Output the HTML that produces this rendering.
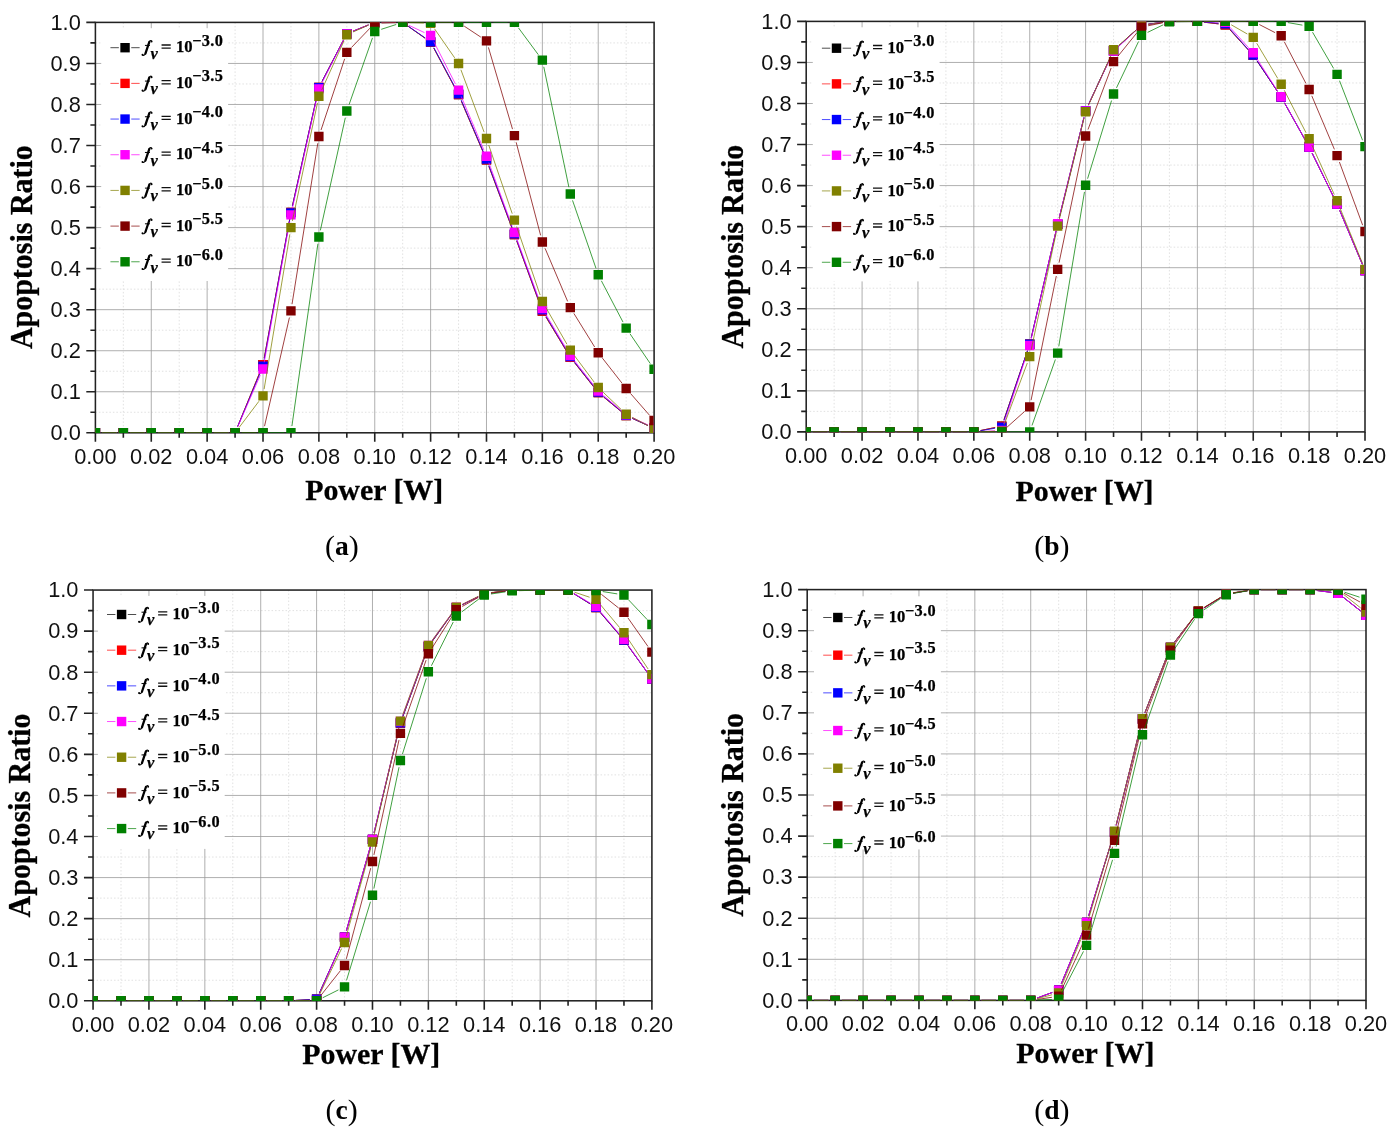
<!DOCTYPE html>
<html lang="en">
<head>
<meta charset="utf-8">
<title>Apoptosis Ratio vs Power</title>
<style>
html,body{margin:0;padding:0;background:#fff;}
body{width:1399px;height:1135px;position:relative;overflow:hidden;font-family:"Liberation Sans",sans-serif;}
svg{display:block;}
</style>
</head>
<body>
<svg width="1399" height="1135" viewBox="0 0 1399 1135" style="position:absolute;left:0;top:0;will-change:transform">
<defs>
<clipPath id="cp_a"><rect x="95.3" y="22.3" width="558.2" height="410.8"/></clipPath>
<clipPath id="cp_b"><rect x="806.1" y="21.3" width="558.3" height="410.9"/></clipPath>
<clipPath id="cp_c"><rect x="92.96" y="589.96" width="558.34" height="411.14"/></clipPath>
<clipPath id="cp_d"><rect x="807.1" y="589.5" width="558.3" height="411.2"/></clipPath>
<g id="gf"><path d="M7.9 -10.6L3.95 1.2" stroke="#000" stroke-width="2.25" stroke-linecap="round" fill="none"/><path d="M7.5 -9.6C8 -11.6 9.3 -12.6 10.2 -11.4" stroke="#000" stroke-width="1.1" fill="none" stroke-linecap="round"/><circle cx="10.15" cy="-10.85" r="0.95" fill="#000"/><path d="M4.3 0.2C3.8 2.2 2.6 3.4 1.2 2.9" stroke="#000" stroke-width="1.1" fill="none" stroke-linecap="round"/><circle cx="1.05" cy="2.45" r="1" fill="#000"/><path d="M3.5 -7H8.5" stroke="#000" stroke-width="1" fill="none"/></g>
</defs>
<g id="panel_a">
<path d="M123.34 22.4V432.8M179.21 22.4V432.8M235.08 22.4V432.8M290.95 22.4V432.8M346.82 22.4V432.8M402.69 22.4V432.8M458.56 22.4V432.8M514.42 22.4V432.8M570.3 22.4V432.8M626.17 22.4V432.8M95.4 412.28H654.1M95.4 371.24H654.1M95.4 330.2H654.1M95.4 289.16H654.1M95.4 248.12H654.1M95.4 207.08H654.1M95.4 166.04H654.1M95.4 125H654.1M95.4 83.96H654.1M95.4 42.92H654.1" stroke="#dedede" stroke-width="0.9" stroke-dasharray="1.5 2" fill="none"/>
<path d="M151.27 22.4V432.8M207.14 22.4V432.8M263.01 22.4V432.8M318.88 22.4V432.8M374.75 22.4V432.8M430.62 22.4V432.8M486.49 22.4V432.8M542.36 22.4V432.8M598.23 22.4V432.8M95.4 391.76H654.1M95.4 350.72H654.1M95.4 309.68H654.1M95.4 268.64H654.1M95.4 227.6H654.1M95.4 186.56H654.1M95.4 145.52H654.1M95.4 104.48H654.1M95.4 63.44H654.1" stroke="#9a9a9a" stroke-width="0.8" fill="none"/>
<rect x="101.2" y="28.2" width="126.9" height="252.8" fill="#fff"/>
<rect x="95.4" y="22.4" width="558.7" height="410.4" fill="none" stroke="#222" stroke-width="1.55"/>
<path d="M95.4 432.8v8.9M123.34 432.8v5M151.27 432.8v8.9M179.21 432.8v5M207.14 432.8v8.9M235.08 432.8v5M263.01 432.8v8.9M290.95 432.8v5M318.88 432.8v8.9M346.82 432.8v5M374.75 432.8v8.9M402.69 432.8v5M430.62 432.8v8.9M458.56 432.8v5M486.49 432.8v8.9M514.42 432.8v5M542.36 432.8v8.9M570.3 432.8v5M598.23 432.8v8.9M626.17 432.8v5M654.1 432.8v8.9M95.4 432.8h-9.1M95.4 412.28h-5M95.4 391.76h-9.1M95.4 371.24h-5M95.4 350.72h-9.1M95.4 330.2h-5M95.4 309.68h-9.1M95.4 289.16h-5M95.4 268.64h-9.1M95.4 248.12h-5M95.4 227.6h-9.1M95.4 207.08h-5M95.4 186.56h-9.1M95.4 166.04h-5M95.4 145.52h-9.1M95.4 125h-5M95.4 104.48h-9.1M95.4 83.96h-5M95.4 63.44h-9.1M95.4 42.92h-5M95.4 22.4h-9.1" stroke="#222" stroke-width="1.6" fill="none"/>
<g font-family="'Liberation Sans', sans-serif" font-size="21.8" fill="#111">
<text x="95.4" y="464.3" text-anchor="middle">0.00</text>
<text x="151.27" y="464.3" text-anchor="middle">0.02</text>
<text x="207.14" y="464.3" text-anchor="middle">0.04</text>
<text x="263.01" y="464.3" text-anchor="middle">0.06</text>
<text x="318.88" y="464.3" text-anchor="middle">0.08</text>
<text x="374.75" y="464.3" text-anchor="middle">0.10</text>
<text x="430.62" y="464.3" text-anchor="middle">0.12</text>
<text x="486.49" y="464.3" text-anchor="middle">0.14</text>
<text x="542.36" y="464.3" text-anchor="middle">0.16</text>
<text x="598.23" y="464.3" text-anchor="middle">0.18</text>
<text x="654.1" y="464.3" text-anchor="middle">0.20</text>
<text x="80.8" y="440.1" text-anchor="end">0.0</text>
<text x="80.8" y="399.06" text-anchor="end">0.1</text>
<text x="80.8" y="358.02" text-anchor="end">0.2</text>
<text x="80.8" y="316.98" text-anchor="end">0.3</text>
<text x="80.8" y="275.94" text-anchor="end">0.4</text>
<text x="80.8" y="234.9" text-anchor="end">0.5</text>
<text x="80.8" y="193.86" text-anchor="end">0.6</text>
<text x="80.8" y="152.82" text-anchor="end">0.7</text>
<text x="80.8" y="111.78" text-anchor="end">0.8</text>
<text x="80.8" y="70.74" text-anchor="end">0.9</text>
<text x="80.8" y="29.7" text-anchor="end">1.0</text>
</g>
<g clip-path="url(#cp_a)">
<path d="M102.2 432.8L116.54 432.8M130.14 432.8L144.47 432.8M158.07 432.8L172.41 432.8M186.01 432.8L200.34 432.8M213.94 432.8L228.28 432.8M237.65 426.51L260.43 370.97M264.24 357.99L289.72 219.1M292.43 205.78L317.4 94.08M322.02 81.41L343.68 39.72M353.12 31.14L368.45 24.95M381.55 22.4L395.89 22.4M408.24 26.32L425.06 38.18M433.81 48.1L455.36 88.63M461.23 100.88L483.81 153.63M488.87 166.25L512.04 228.21M516.76 240.96L540.03 304.73M545.88 316.93L566.77 351.47M574.52 362.62L594.01 387.25M603.48 396.9L620.91 411.24M632.35 418.38L647.91 425.47" stroke="#000000" stroke-width="0.75" fill="none"/>
<path d="M90.7 428.1h9.4v9.4h-9.4zM118.64 428.1h9.4v9.4h-9.4zM146.57 428.1h9.4v9.4h-9.4zM174.51 428.1h9.4v9.4h-9.4zM202.44 428.1h9.4v9.4h-9.4zM230.38 428.1h9.4v9.4h-9.4zM258.31 359.97h9.4v9.4h-9.4zM286.25 207.72h9.4v9.4h-9.4zM314.18 82.75h9.4v9.4h-9.4zM342.12 28.99h9.4v9.4h-9.4zM370.05 17.7h9.4v9.4h-9.4zM397.99 17.7h9.4v9.4h-9.4zM425.92 37.4h9.4v9.4h-9.4zM453.86 89.93h9.4v9.4h-9.4zM481.79 155.18h9.4v9.4h-9.4zM509.72 229.88h9.4v9.4h-9.4zM537.66 306.42h9.4v9.4h-9.4zM565.6 352.59h9.4v9.4h-9.4zM593.53 387.88h9.4v9.4h-9.4zM621.47 410.86h9.4v9.4h-9.4zM649.4 423.59h9.4v9.4h-9.4z" fill="#000000"/>
<path d="M102.2 432.8L116.54 432.8M130.14 432.8L144.47 432.8M158.07 432.8L172.41 432.8M186.01 432.8L200.34 432.8M213.94 432.8L228.28 432.8M237.65 426.51L260.43 370.97M264.24 357.99L289.72 219.1M292.43 205.78L317.4 94.08M322.02 81.41L343.68 39.72M353.12 31.14L368.45 24.95M381.55 22.4L395.89 22.4M408.24 26.32L425.06 38.18M433.81 48.1L455.36 88.63M461.23 100.88L483.81 153.63M488.87 166.25L512.04 228.21M516.76 240.96L540.03 304.73M545.88 316.93L566.77 351.47M574.52 362.62L594.01 387.25M603.48 396.9L620.91 411.24M632.35 418.38L647.91 425.47" stroke="#ff0000" stroke-width="0.75" fill="none"/>
<path d="M90.7 428.1h9.4v9.4h-9.4zM118.64 428.1h9.4v9.4h-9.4zM146.57 428.1h9.4v9.4h-9.4zM174.51 428.1h9.4v9.4h-9.4zM202.44 428.1h9.4v9.4h-9.4zM230.38 428.1h9.4v9.4h-9.4zM258.31 359.97h9.4v9.4h-9.4zM286.25 207.72h9.4v9.4h-9.4zM314.18 82.75h9.4v9.4h-9.4zM342.12 28.99h9.4v9.4h-9.4zM370.05 17.7h9.4v9.4h-9.4zM397.99 17.7h9.4v9.4h-9.4zM425.92 37.4h9.4v9.4h-9.4zM453.86 89.93h9.4v9.4h-9.4zM481.79 155.18h9.4v9.4h-9.4zM509.72 229.88h9.4v9.4h-9.4zM537.66 306.42h9.4v9.4h-9.4zM565.6 352.59h9.4v9.4h-9.4zM593.53 387.88h9.4v9.4h-9.4zM621.47 410.86h9.4v9.4h-9.4zM649.4 423.59h9.4v9.4h-9.4z" fill="#ff0000"/>
<path d="M102.2 432.8L116.54 432.8M130.14 432.8L144.47 432.8M158.07 432.8L172.41 432.8M186.01 432.8L200.34 432.8M213.94 432.8L228.28 432.8M237.71 426.53L260.38 372.58M264.23 359.63L289.73 219.52M292.43 206.19L317.4 94.29M322.02 81.62L343.68 39.93M353.1 31.3L368.46 24.99M381.55 22.4L395.89 22.4M408.28 26.26L425.02 37.83M433.83 47.68L455.34 87.82M461.23 100.06L483.81 152.81M488.87 165.43L512.04 227.39M516.77 240.14L540.02 303.5M545.85 315.72L566.8 350.75M574.51 361.93L594.02 386.63M603.44 396.33L620.95 410.99M632.34 418.21L647.93 425.43" stroke="#0000ff" stroke-width="0.75" fill="none"/>
<path d="M90.7 428.1h9.4v9.4h-9.4zM118.64 428.1h9.4v9.4h-9.4zM146.57 428.1h9.4v9.4h-9.4zM174.51 428.1h9.4v9.4h-9.4zM202.44 428.1h9.4v9.4h-9.4zM230.38 428.1h9.4v9.4h-9.4zM258.31 361.62h9.4v9.4h-9.4zM286.25 208.13h9.4v9.4h-9.4zM314.18 82.95h9.4v9.4h-9.4zM342.12 29.19h9.4v9.4h-9.4zM370.05 17.7h9.4v9.4h-9.4zM397.99 17.7h9.4v9.4h-9.4zM425.92 36.99h9.4v9.4h-9.4zM453.86 89.11h9.4v9.4h-9.4zM481.79 154.36h9.4v9.4h-9.4zM509.72 229.06h9.4v9.4h-9.4zM537.66 305.19h9.4v9.4h-9.4zM565.6 351.89h9.4v9.4h-9.4zM593.53 387.27h9.4v9.4h-9.4zM621.47 410.66h9.4v9.4h-9.4zM649.4 423.59h9.4v9.4h-9.4z" fill="#0000ff"/>
<path d="M102.2 432.8L116.54 432.8M130.14 432.8L144.47 432.8M158.07 432.8L172.41 432.8M186.01 432.8L200.34 432.8M213.94 432.8L228.28 432.8M237.8 426.57L260.28 375.21M264.22 362.29L289.73 221.57M292.42 208.24L317.41 95.52M321.96 82.82L343.74 39.95M353.1 31.3L368.46 24.99M381.55 22.4L395.89 22.4M408.84 25.29L424.47 32.64M433.72 41.59L455.46 84.06M461.2 96.38L483.84 149.93M488.83 162.58L512.09 226.14M516.77 238.91L540.01 302.07M545.83 314.29L566.82 349.59M574.5 360.78L594.02 385.6M603.41 395.35L620.99 410.33M632.32 417.64L647.95 424.98" stroke="#ff00ff" stroke-width="0.75" fill="none"/>
<path d="M90.7 428.1h9.4v9.4h-9.4zM118.64 428.1h9.4v9.4h-9.4zM146.57 428.1h9.4v9.4h-9.4zM174.51 428.1h9.4v9.4h-9.4zM202.44 428.1h9.4v9.4h-9.4zM230.38 428.1h9.4v9.4h-9.4zM258.31 364.28h9.4v9.4h-9.4zM286.25 210.18h9.4v9.4h-9.4zM314.18 84.18h9.4v9.4h-9.4zM342.12 29.19h9.4v9.4h-9.4zM370.05 17.7h9.4v9.4h-9.4zM397.99 17.7h9.4v9.4h-9.4zM425.92 30.83h9.4v9.4h-9.4zM453.86 85.42h9.4v9.4h-9.4zM481.79 151.49h9.4v9.4h-9.4zM509.72 227.82h9.4v9.4h-9.4zM537.66 303.75h9.4v9.4h-9.4zM565.6 350.74h9.4v9.4h-9.4zM593.53 386.24h9.4v9.4h-9.4zM621.47 410.04h9.4v9.4h-9.4zM649.4 423.18h9.4v9.4h-9.4z" fill="#ff00ff"/>
<path d="M102.2 432.8L116.54 432.8M130.14 432.8L144.47 432.8M158.07 432.8L172.41 432.8M186.01 432.8L200.34 432.8M213.94 432.8L228.28 432.8M239.18 427.38L258.91 401.29M264.12 389.16L289.83 234.31M292.36 220.95L317.47 102.92M321.69 90.08L344.01 40.9M353.04 31.97L368.53 25.14M381.55 22.4L395.89 22.4M409.48 22.6L423.82 23.02M434.5 28.81L454.68 57.86M460.93 69.81L484.12 132.17M488.69 144.98L512.22 213.66M516.63 226.52L540.15 295.04M545.75 307.37L566.91 344.21M574.36 355.55L594.16 382.08M603.15 392.23L621.25 409.51M632.2 417.34L648.06 425.57" stroke="#808000" stroke-width="0.75" fill="none"/>
<path d="M90.7 428.1h9.4v9.4h-9.4zM118.64 428.1h9.4v9.4h-9.4zM146.57 428.1h9.4v9.4h-9.4zM174.51 428.1h9.4v9.4h-9.4zM202.44 428.1h9.4v9.4h-9.4zM230.38 428.1h9.4v9.4h-9.4zM258.31 391.16h9.4v9.4h-9.4zM286.25 222.9h9.4v9.4h-9.4zM314.18 91.57h9.4v9.4h-9.4zM342.12 30.01h9.4v9.4h-9.4zM370.05 17.7h9.4v9.4h-9.4zM397.99 17.7h9.4v9.4h-9.4zM425.92 18.52h9.4v9.4h-9.4zM453.86 58.74h9.4v9.4h-9.4zM481.79 133.84h9.4v9.4h-9.4zM509.72 215.39h9.4v9.4h-9.4zM537.66 296.77h9.4v9.4h-9.4zM565.6 345.4h9.4v9.4h-9.4zM593.53 382.83h9.4v9.4h-9.4zM621.47 409.51h9.4v9.4h-9.4zM649.4 424h9.4v9.4h-9.4z" fill="#808000"/>
<path d="M102.2 432.8L116.54 432.8M130.14 432.8L144.47 432.8M158.07 432.8L172.41 432.8M186.01 432.8L200.34 432.8M213.94 432.8L228.28 432.8M241.88 432.8L256.21 432.8M264.53 426.17L289.43 317.54M292.02 304.2L317.8 143.21M321.02 130.04L344.67 58.81M351.52 47.45L370.04 28.13M381.55 23.02L395.89 22.6M409.49 22.4L423.82 22.4M437.42 22.4L451.76 22.4M464.23 26.15L480.82 37.12M488.41 47.39L512.5 129.15M516.15 142.25L540.63 235.39M545.02 248.22L567.63 301.37M573.87 313.41L594.65 346.99M602.42 358.13L621.97 383.12M630.64 393.6L649.63 415.36" stroke="#800000" stroke-width="0.75" fill="none"/>
<path d="M90.7 428.1h9.4v9.4h-9.4zM118.64 428.1h9.4v9.4h-9.4zM146.57 428.1h9.4v9.4h-9.4zM174.51 428.1h9.4v9.4h-9.4zM202.44 428.1h9.4v9.4h-9.4zM230.38 428.1h9.4v9.4h-9.4zM258.31 428.1h9.4v9.4h-9.4zM286.25 306.21h9.4v9.4h-9.4zM314.18 131.79h9.4v9.4h-9.4zM342.12 47.66h9.4v9.4h-9.4zM370.05 18.52h9.4v9.4h-9.4zM397.99 17.7h9.4v9.4h-9.4zM425.92 17.7h9.4v9.4h-9.4zM453.86 17.7h9.4v9.4h-9.4zM481.79 36.17h9.4v9.4h-9.4zM509.72 130.97h9.4v9.4h-9.4zM537.66 237.26h9.4v9.4h-9.4zM565.6 302.93h9.4v9.4h-9.4zM593.53 348.07h9.4v9.4h-9.4zM621.47 383.78h9.4v9.4h-9.4zM649.4 415.79h9.4v9.4h-9.4z" fill="#800000"/>
<path d="M102.2 432.8L116.54 432.8M130.14 432.8L144.47 432.8M158.07 432.8L172.41 432.8M186.01 432.8L200.34 432.8M213.94 432.8L228.28 432.8M241.88 432.8L256.21 432.8M269.81 432.8L284.15 432.8M291.91 426.07L317.92 243.77M320.35 230.4L345.34 117.69M349.07 104.63L372.5 37.85M381.22 29.34L396.21 24.49M409.49 22.4L423.82 22.4M437.42 22.4L451.76 22.4M465.36 22.4L479.69 22.4M493.29 22.4L507.62 22.4M518.47 27.87L538.32 54.69M543.75 66.81L568.91 187.29M572.52 200.37L596.01 268.37M601.38 280.82L623.01 322.12M629.99 333.77L650.27 363.57" stroke="#008000" stroke-width="0.75" fill="none"/>
<path d="M90.7 428.1h9.4v9.4h-9.4zM118.64 428.1h9.4v9.4h-9.4zM146.57 428.1h9.4v9.4h-9.4zM174.51 428.1h9.4v9.4h-9.4zM202.44 428.1h9.4v9.4h-9.4zM230.38 428.1h9.4v9.4h-9.4zM258.31 428.1h9.4v9.4h-9.4zM286.25 428.1h9.4v9.4h-9.4zM314.18 232.34h9.4v9.4h-9.4zM342.12 106.35h9.4v9.4h-9.4zM370.05 26.73h9.4v9.4h-9.4zM397.99 17.7h9.4v9.4h-9.4zM425.92 17.7h9.4v9.4h-9.4zM453.86 17.7h9.4v9.4h-9.4zM481.79 17.7h9.4v9.4h-9.4zM509.72 17.7h9.4v9.4h-9.4zM537.66 55.46h9.4v9.4h-9.4zM565.6 189.25h9.4v9.4h-9.4zM593.53 270.1h9.4v9.4h-9.4zM621.47 323.45h9.4v9.4h-9.4zM649.4 364.49h9.4v9.4h-9.4z" fill="#008000"/>
</g>
<path d="M110.45 47.7h8.4M131.25 47.7h8.4" stroke="#000000" stroke-width="0.7" fill="none"/>
<rect x="120.35" y="43" width="9.4" height="9.4" fill="#000000"/>
<use href="#gf" x="141.45" y="52.4"/>
<g font-family="'Liberation Serif', serif" font-weight="bold" font-size="16.6" fill="#000" stroke="#000" stroke-width="0.25">
<text x="150.45" y="58.6" font-style="italic" font-size="16.4">v</text>
<path d="M161.55 45h9.2M161.55 48.1h9.2" stroke="#111" stroke-width="1.3" fill="none"/>
<text x="176.05" y="52.4">10</text>
<text x="192.15" y="45.8" font-size="16.3" letter-spacing="0.4">−3.0</text>
</g>
<path d="M110.45 83.38h8.4M131.25 83.38h8.4" stroke="#ff0000" stroke-width="0.7" fill="none"/>
<rect x="120.35" y="78.68" width="9.4" height="9.4" fill="#ff0000"/>
<use href="#gf" x="141.45" y="88.08"/>
<g font-family="'Liberation Serif', serif" font-weight="bold" font-size="16.6" fill="#000" stroke="#000" stroke-width="0.25">
<text x="150.45" y="94.28" font-style="italic" font-size="16.4">v</text>
<path d="M161.55 80.68h9.2M161.55 83.78h9.2" stroke="#111" stroke-width="1.3" fill="none"/>
<text x="176.05" y="88.08">10</text>
<text x="192.15" y="81.48" font-size="16.3" letter-spacing="0.4">−3.5</text>
</g>
<path d="M110.45 119.06h8.4M131.25 119.06h8.4" stroke="#0000ff" stroke-width="0.7" fill="none"/>
<rect x="120.35" y="114.36" width="9.4" height="9.4" fill="#0000ff"/>
<use href="#gf" x="141.45" y="123.76"/>
<g font-family="'Liberation Serif', serif" font-weight="bold" font-size="16.6" fill="#000" stroke="#000" stroke-width="0.25">
<text x="150.45" y="129.96" font-style="italic" font-size="16.4">v</text>
<path d="M161.55 116.36h9.2M161.55 119.46h9.2" stroke="#111" stroke-width="1.3" fill="none"/>
<text x="176.05" y="123.76">10</text>
<text x="192.15" y="117.16" font-size="16.3" letter-spacing="0.4">−4.0</text>
</g>
<path d="M110.45 154.74h8.4M131.25 154.74h8.4" stroke="#ff00ff" stroke-width="0.7" fill="none"/>
<rect x="120.35" y="150.04" width="9.4" height="9.4" fill="#ff00ff"/>
<use href="#gf" x="141.45" y="159.44"/>
<g font-family="'Liberation Serif', serif" font-weight="bold" font-size="16.6" fill="#000" stroke="#000" stroke-width="0.25">
<text x="150.45" y="165.64" font-style="italic" font-size="16.4">v</text>
<path d="M161.55 152.04h9.2M161.55 155.14h9.2" stroke="#111" stroke-width="1.3" fill="none"/>
<text x="176.05" y="159.44">10</text>
<text x="192.15" y="152.84" font-size="16.3" letter-spacing="0.4">−4.5</text>
</g>
<path d="M110.45 190.42h8.4M131.25 190.42h8.4" stroke="#808000" stroke-width="0.7" fill="none"/>
<rect x="120.35" y="185.72" width="9.4" height="9.4" fill="#808000"/>
<use href="#gf" x="141.45" y="195.12"/>
<g font-family="'Liberation Serif', serif" font-weight="bold" font-size="16.6" fill="#000" stroke="#000" stroke-width="0.25">
<text x="150.45" y="201.32" font-style="italic" font-size="16.4">v</text>
<path d="M161.55 187.72h9.2M161.55 190.82h9.2" stroke="#111" stroke-width="1.3" fill="none"/>
<text x="176.05" y="195.12">10</text>
<text x="192.15" y="188.52" font-size="16.3" letter-spacing="0.4">−5.0</text>
</g>
<path d="M110.45 226.1h8.4M131.25 226.1h8.4" stroke="#800000" stroke-width="0.7" fill="none"/>
<rect x="120.35" y="221.4" width="9.4" height="9.4" fill="#800000"/>
<use href="#gf" x="141.45" y="230.8"/>
<g font-family="'Liberation Serif', serif" font-weight="bold" font-size="16.6" fill="#000" stroke="#000" stroke-width="0.25">
<text x="150.45" y="237" font-style="italic" font-size="16.4">v</text>
<path d="M161.55 223.4h9.2M161.55 226.5h9.2" stroke="#111" stroke-width="1.3" fill="none"/>
<text x="176.05" y="230.8">10</text>
<text x="192.15" y="224.2" font-size="16.3" letter-spacing="0.4">−5.5</text>
</g>
<path d="M110.45 261.78h8.4M131.25 261.78h8.4" stroke="#008000" stroke-width="0.7" fill="none"/>
<rect x="120.35" y="257.08" width="9.4" height="9.4" fill="#008000"/>
<use href="#gf" x="141.45" y="266.48"/>
<g font-family="'Liberation Serif', serif" font-weight="bold" font-size="16.6" fill="#000" stroke="#000" stroke-width="0.25">
<text x="150.45" y="272.68" font-style="italic" font-size="16.4">v</text>
<path d="M161.55 259.08h9.2M161.55 262.18h9.2" stroke="#111" stroke-width="1.3" fill="none"/>
<text x="176.05" y="266.48">10</text>
<text x="192.15" y="259.88" font-size="16.3" letter-spacing="0.4">−6.0</text>
</g>
<g font-family="'Liberation Serif', serif" font-weight="bold" fill="#000" stroke="#000" stroke-width="0.3">
<text x="374.2" y="500.4" text-anchor="middle" font-size="29.9">Power [W]</text>
<text transform="translate(31.75 247.15) rotate(-90)" text-anchor="middle" font-size="31.4" textLength="203.8" lengthAdjust="spacingAndGlyphs">Apoptosis Ratio</text>
</g>
<text x="341.8" y="554.8" text-anchor="middle" font-family="'Liberation Serif', serif" font-size="27.5" fill="#000"><tspan font-size="30" dy="1.6">(</tspan><tspan font-weight="bold" dy="-1.6">a</tspan><tspan font-size="30" dy="1.6">)</tspan></text>
</g>
<g id="panel_b">
<path d="M834.14 21.4V431.9M890.02 21.4V431.9M945.9 21.4V431.9M1001.78 21.4V431.9M1057.66 21.4V431.9M1113.54 21.4V431.9M1169.42 21.4V431.9M1225.3 21.4V431.9M1281.18 21.4V431.9M1337.06 21.4V431.9M806.2 411.38H1365M806.2 370.32H1365M806.2 329.27H1365M806.2 288.22H1365M806.2 247.17H1365M806.2 206.12H1365M806.2 165.07H1365M806.2 124.02H1365M806.2 82.97H1365M806.2 41.92H1365" stroke="#dedede" stroke-width="0.9" stroke-dasharray="1.5 2" fill="none"/>
<path d="M862.08 21.4V431.9M917.96 21.4V431.9M973.84 21.4V431.9M1029.72 21.4V431.9M1085.6 21.4V431.9M1141.48 21.4V431.9M1197.36 21.4V431.9M1253.24 21.4V431.9M1309.12 21.4V431.9M806.2 390.85H1365M806.2 349.8H1365M806.2 308.75H1365M806.2 267.7H1365M806.2 226.65H1365M806.2 185.6H1365M806.2 144.55H1365M806.2 103.5H1365M806.2 62.45H1365" stroke="#9a9a9a" stroke-width="0.8" fill="none"/>
<rect x="812.8" y="27.3" width="126.8" height="254.1" fill="#fff"/>
<rect x="806.2" y="21.4" width="558.8" height="410.5" fill="none" stroke="#222" stroke-width="1.55"/>
<path d="M806.2 431.9v8.9M834.14 431.9v5M862.08 431.9v8.9M890.02 431.9v5M917.96 431.9v8.9M945.9 431.9v5M973.84 431.9v8.9M1001.78 431.9v5M1029.72 431.9v8.9M1057.66 431.9v5M1085.6 431.9v8.9M1113.54 431.9v5M1141.48 431.9v8.9M1169.42 431.9v5M1197.36 431.9v8.9M1225.3 431.9v5M1253.24 431.9v8.9M1281.18 431.9v5M1309.12 431.9v8.9M1337.06 431.9v5M1365 431.9v8.9M806.2 431.9h-9.1M806.2 411.38h-5M806.2 390.85h-9.1M806.2 370.32h-5M806.2 349.8h-9.1M806.2 329.27h-5M806.2 308.75h-9.1M806.2 288.22h-5M806.2 267.7h-9.1M806.2 247.17h-5M806.2 226.65h-9.1M806.2 206.12h-5M806.2 185.6h-9.1M806.2 165.07h-5M806.2 144.55h-9.1M806.2 124.02h-5M806.2 103.5h-9.1M806.2 82.97h-5M806.2 62.45h-9.1M806.2 41.92h-5M806.2 21.4h-9.1" stroke="#222" stroke-width="1.6" fill="none"/>
<g font-family="'Liberation Sans', sans-serif" font-size="21.8" fill="#111">
<text x="806.2" y="463.2" text-anchor="middle">0.00</text>
<text x="862.08" y="463.2" text-anchor="middle">0.02</text>
<text x="917.96" y="463.2" text-anchor="middle">0.04</text>
<text x="973.84" y="463.2" text-anchor="middle">0.06</text>
<text x="1029.72" y="463.2" text-anchor="middle">0.08</text>
<text x="1085.6" y="463.2" text-anchor="middle">0.10</text>
<text x="1141.48" y="463.2" text-anchor="middle">0.12</text>
<text x="1197.36" y="463.2" text-anchor="middle">0.14</text>
<text x="1253.24" y="463.2" text-anchor="middle">0.16</text>
<text x="1309.12" y="463.2" text-anchor="middle">0.18</text>
<text x="1365" y="463.2" text-anchor="middle">0.20</text>
<text x="791.6" y="439.2" text-anchor="end">0.0</text>
<text x="791.6" y="398.15" text-anchor="end">0.1</text>
<text x="791.6" y="357.1" text-anchor="end">0.2</text>
<text x="791.6" y="316.05" text-anchor="end">0.3</text>
<text x="791.6" y="275" text-anchor="end">0.4</text>
<text x="791.6" y="233.95" text-anchor="end">0.5</text>
<text x="791.6" y="192.9" text-anchor="end">0.6</text>
<text x="791.6" y="151.85" text-anchor="end">0.7</text>
<text x="791.6" y="110.8" text-anchor="end">0.8</text>
<text x="791.6" y="69.75" text-anchor="end">0.9</text>
<text x="791.6" y="28.7" text-anchor="end">1.0</text>
</g>
<g clip-path="url(#cp_b)">
<path d="M813 431.9L827.34 431.9M840.94 431.9L855.28 431.9M868.88 431.9L883.22 431.9M896.82 431.9L911.16 431.9M924.76 431.9L939.1 431.9M952.7 431.9L967.04 431.9M980.5 430.53L995.12 427.52M1003.98 419.72L1027.52 350.69M1031.26 337.64L1056.12 230.81M1059.29 217.58L1083.97 117.49M1088.47 104.72L1110.67 56.92M1118.55 46.15L1136.47 29.69M1148.22 24.2L1162.68 22.29M1176.22 21.4L1190.56 21.4M1204.11 22.19L1218.55 23.89M1229.89 29.7L1248.65 50.25M1257.03 60.91L1277.39 91.28M1284.49 102.87L1305.81 141.07M1312.11 153.12L1334.07 197.97M1339.69 210.34L1362.37 264.3" stroke="#000000" stroke-width="0.75" fill="none"/>
<path d="M801.5 427.2h9.4v9.4h-9.4zM829.44 427.2h9.4v9.4h-9.4zM857.38 427.2h9.4v9.4h-9.4zM885.32 427.2h9.4v9.4h-9.4zM913.26 427.2h9.4v9.4h-9.4zM941.2 427.2h9.4v9.4h-9.4zM969.14 427.2h9.4v9.4h-9.4zM997.08 421.45h9.4v9.4h-9.4zM1025.02 339.56h9.4v9.4h-9.4zM1052.96 219.49h9.4v9.4h-9.4zM1080.9 106.19h9.4v9.4h-9.4zM1108.84 46.05h9.4v9.4h-9.4zM1136.78 20.39h9.4v9.4h-9.4zM1164.72 16.7h9.4v9.4h-9.4zM1192.66 16.7h9.4v9.4h-9.4zM1220.6 19.98h9.4v9.4h-9.4zM1248.54 50.57h9.4v9.4h-9.4zM1276.48 92.23h9.4v9.4h-9.4zM1304.42 142.31h9.4v9.4h-9.4zM1332.36 199.37h9.4v9.4h-9.4zM1360.3 265.87h9.4v9.4h-9.4z" fill="#000000"/>
<path d="M813 431.9L827.34 431.9M840.94 431.9L855.28 431.9M868.88 431.9L883.22 431.9M896.82 431.9L911.16 431.9M924.76 431.9L939.1 431.9M952.7 431.9L967.04 431.9M980.5 430.53L995.12 427.52M1003.98 419.72L1027.52 350.69M1031.26 337.64L1056.12 230.81M1059.29 217.58L1083.97 117.49M1088.47 104.72L1110.67 56.92M1118.55 46.15L1136.47 29.69M1148.22 24.2L1162.68 22.29M1176.22 21.4L1190.56 21.4M1204.11 22.19L1218.55 23.89M1229.89 29.7L1248.65 50.25M1257.03 60.91L1277.39 91.28M1284.49 102.87L1305.81 141.07M1312.11 153.12L1334.07 197.97M1339.69 210.34L1362.37 264.3" stroke="#ff0000" stroke-width="0.75" fill="none"/>
<path d="M801.5 427.2h9.4v9.4h-9.4zM829.44 427.2h9.4v9.4h-9.4zM857.38 427.2h9.4v9.4h-9.4zM885.32 427.2h9.4v9.4h-9.4zM913.26 427.2h9.4v9.4h-9.4zM941.2 427.2h9.4v9.4h-9.4zM969.14 427.2h9.4v9.4h-9.4zM997.08 421.45h9.4v9.4h-9.4zM1025.02 339.56h9.4v9.4h-9.4zM1052.96 219.49h9.4v9.4h-9.4zM1080.9 106.19h9.4v9.4h-9.4zM1108.84 46.05h9.4v9.4h-9.4zM1136.78 20.39h9.4v9.4h-9.4zM1164.72 16.7h9.4v9.4h-9.4zM1192.66 16.7h9.4v9.4h-9.4zM1220.6 19.98h9.4v9.4h-9.4zM1248.54 50.57h9.4v9.4h-9.4zM1276.48 92.23h9.4v9.4h-9.4zM1304.42 142.31h9.4v9.4h-9.4zM1332.36 199.37h9.4v9.4h-9.4zM1360.3 265.87h9.4v9.4h-9.4z" fill="#ff0000"/>
<path d="M813 431.9L827.34 431.9M840.94 431.9L855.28 431.9M868.88 431.9L883.22 431.9M896.82 431.9L911.16 431.9M924.76 431.9L939.1 431.9M952.7 431.9L967.04 431.9M980.54 430.75L995.08 428.25M1003.95 420.65L1027.55 350.7M1031.26 337.64L1056.12 230.81M1059.29 217.58L1083.97 117.29M1088.47 104.52L1110.67 56.91M1118.55 46.15L1136.47 29.69M1148.22 24.2L1162.68 22.29M1176.22 21.4L1190.56 21.4M1204.13 22L1218.53 23.27M1229.84 28.93L1248.7 50M1257.01 60.72L1277.41 91.28M1284.49 102.87L1305.81 141.07M1312.11 153.12L1334.07 197.97M1339.69 210.34L1362.37 264.3" stroke="#0000ff" stroke-width="0.75" fill="none"/>
<path d="M801.5 427.2h9.4v9.4h-9.4zM829.44 427.2h9.4v9.4h-9.4zM857.38 427.2h9.4v9.4h-9.4zM885.32 427.2h9.4v9.4h-9.4zM913.26 427.2h9.4v9.4h-9.4zM941.2 427.2h9.4v9.4h-9.4zM969.14 427.2h9.4v9.4h-9.4zM997.08 422.4h9.4v9.4h-9.4zM1025.02 339.56h9.4v9.4h-9.4zM1052.96 219.49h9.4v9.4h-9.4zM1080.9 105.98h9.4v9.4h-9.4zM1108.84 46.05h9.4v9.4h-9.4zM1136.78 20.39h9.4v9.4h-9.4zM1164.72 16.7h9.4v9.4h-9.4zM1192.66 16.7h9.4v9.4h-9.4zM1220.6 19.16h9.4v9.4h-9.4zM1248.54 50.36h9.4v9.4h-9.4zM1276.48 92.23h9.4v9.4h-9.4zM1304.42 142.31h9.4v9.4h-9.4zM1332.36 199.37h9.4v9.4h-9.4zM1360.3 265.87h9.4v9.4h-9.4z" fill="#0000ff"/>
<path d="M813 431.9L827.34 431.9M840.94 431.9L855.28 431.9M868.88 431.9L883.22 431.9M896.82 431.9L911.16 431.9M924.76 431.9L939.1 431.9M952.7 431.9L967.04 431.9M980.63 431.55L994.99 430.81M1003.9 424L1027.6 351.95M1031.24 338.86L1056.14 230.4M1059.29 217.18L1083.97 117.49M1088.48 104.73L1110.66 57.32M1118.55 46.56L1136.47 30.1M1148.21 24.52L1162.69 22.39M1176.22 21.4L1190.56 21.4M1204.16 21.6L1218.5 22.02M1229.89 27.24L1248.65 47.74M1256.89 58.5L1277.53 90.99M1284.49 102.67L1305.81 140.99M1312.11 153.04L1334.07 197.92M1339.69 210.3L1362.37 264.3" stroke="#ff00ff" stroke-width="0.75" fill="none"/>
<path d="M801.5 427.2h9.4v9.4h-9.4zM829.44 427.2h9.4v9.4h-9.4zM857.38 427.2h9.4v9.4h-9.4zM885.32 427.2h9.4v9.4h-9.4zM913.26 427.2h9.4v9.4h-9.4zM941.2 427.2h9.4v9.4h-9.4zM969.14 427.2h9.4v9.4h-9.4zM997.08 425.76h9.4v9.4h-9.4zM1025.02 340.79h9.4v9.4h-9.4zM1052.96 219.08h9.4v9.4h-9.4zM1080.9 106.19h9.4v9.4h-9.4zM1108.84 46.46h9.4v9.4h-9.4zM1136.78 20.8h9.4v9.4h-9.4zM1164.72 16.7h9.4v9.4h-9.4zM1192.66 16.7h9.4v9.4h-9.4zM1220.6 17.52h9.4v9.4h-9.4zM1248.54 48.06h9.4v9.4h-9.4zM1276.48 92.03h9.4v9.4h-9.4zM1304.42 142.23h9.4v9.4h-9.4zM1332.36 199.33h9.4v9.4h-9.4zM1360.3 265.87h9.4v9.4h-9.4z" fill="#ff00ff"/>
<path d="M813 431.9L827.34 431.9M840.94 431.9L855.28 431.9M868.88 431.9L883.22 431.9M896.82 431.9L911.16 431.9M924.76 431.9L939.1 431.9M952.7 431.9L967.04 431.9M980.64 431.7L994.98 431.28M1004.17 424.71L1027.33 362.98M1031.14 349.96L1056.24 232.72M1059.27 219.47L1083.99 118.32M1088.39 105.51L1110.75 55.92M1118.68 45.27L1136.34 29.96M1148.21 24.52L1162.69 22.39M1176.22 21.4L1190.56 21.4M1204.16 21.4L1218.5 21.4M1231.2 24.78L1247.34 34.03M1256.73 43.25L1277.69 78.37M1284.28 90.26L1306.02 132.75M1311.91 145L1334.27 194.59M1339.63 207.09L1362.43 263.04" stroke="#808000" stroke-width="0.75" fill="none"/>
<path d="M801.5 427.2h9.4v9.4h-9.4zM829.44 427.2h9.4v9.4h-9.4zM857.38 427.2h9.4v9.4h-9.4zM885.32 427.2h9.4v9.4h-9.4zM913.26 427.2h9.4v9.4h-9.4zM941.2 427.2h9.4v9.4h-9.4zM969.14 427.2h9.4v9.4h-9.4zM997.08 426.38h9.4v9.4h-9.4zM1025.02 351.91h9.4v9.4h-9.4zM1052.96 221.38h9.4v9.4h-9.4zM1080.9 107.01h9.4v9.4h-9.4zM1108.84 45.02h9.4v9.4h-9.4zM1136.78 20.8h9.4v9.4h-9.4zM1164.72 16.7h9.4v9.4h-9.4zM1192.66 16.7h9.4v9.4h-9.4zM1220.6 16.7h9.4v9.4h-9.4zM1248.54 32.71h9.4v9.4h-9.4zM1276.48 79.51h9.4v9.4h-9.4zM1304.42 134.1h9.4v9.4h-9.4zM1332.36 196.09h9.4v9.4h-9.4zM1360.3 264.64h9.4v9.4h-9.4z" fill="#808000"/>
<path d="M813 431.9L827.34 431.9M840.94 431.9L855.28 431.9M868.88 431.9L883.22 431.9M896.82 431.9L911.16 431.9M924.76 431.9L939.1 431.9M952.7 431.9L967.04 431.9M980.64 431.9L994.98 431.9M1006.84 427.36L1024.66 411.4M1031.07 400.2L1056.31 276.01M1059.05 262.69L1084.21 142.59M1087.99 129.56L1111.15 67.99M1117.82 56.35L1137.2 32.43M1148.14 25.78L1162.76 22.77M1176.22 21.4L1190.56 21.4M1204.16 21.4L1218.5 21.4M1232.1 21.4L1246.44 21.4M1259.29 24.51L1275.13 32.66M1284.32 41.8L1305.98 83.51M1311.77 95.81L1334.41 149.37M1339.41 162.02L1362.65 225.19" stroke="#800000" stroke-width="0.75" fill="none"/>
<path d="M801.5 427.2h9.4v9.4h-9.4zM829.44 427.2h9.4v9.4h-9.4zM857.38 427.2h9.4v9.4h-9.4zM885.32 427.2h9.4v9.4h-9.4zM913.26 427.2h9.4v9.4h-9.4zM941.2 427.2h9.4v9.4h-9.4zM969.14 427.2h9.4v9.4h-9.4zM997.08 427.2h9.4v9.4h-9.4zM1025.02 402.16h9.4v9.4h-9.4zM1052.96 264.64h9.4v9.4h-9.4zM1080.9 131.23h9.4v9.4h-9.4zM1108.84 56.93h9.4v9.4h-9.4zM1136.78 22.45h9.4v9.4h-9.4zM1164.72 16.7h9.4v9.4h-9.4zM1192.66 16.7h9.4v9.4h-9.4zM1220.6 16.7h9.4v9.4h-9.4zM1248.54 16.7h9.4v9.4h-9.4zM1276.48 31.07h9.4v9.4h-9.4zM1304.42 84.84h9.4v9.4h-9.4zM1332.36 150.93h9.4v9.4h-9.4zM1360.3 226.88h9.4v9.4h-9.4z" fill="#800000"/>
<path d="M813 431.9L827.34 431.9M840.94 431.9L855.28 431.9M868.88 431.9L883.22 431.9M896.82 431.9L911.16 431.9M924.76 431.9L939.1 431.9M952.7 431.9L967.04 431.9M980.64 431.9L994.98 431.9M1008.58 431.9L1022.92 431.9M1031.99 425.49L1055.39 359.49M1058.78 346.38L1084.48 191.9M1087.59 178.69L1111.55 100.56M1116.46 87.92L1138.56 41.5M1147.6 32.39L1163.3 24.78M1176.22 21.71L1190.56 21.5M1204.16 21.4L1218.5 21.4M1232.1 21.4L1246.44 21.4M1260.04 21.4L1274.38 21.4M1287.88 22.58L1302.42 25.15M1312.54 32.2L1333.64 68.48M1339.51 80.7L1362.55 140.26" stroke="#008000" stroke-width="0.75" fill="none"/>
<path d="M801.5 427.2h9.4v9.4h-9.4zM829.44 427.2h9.4v9.4h-9.4zM857.38 427.2h9.4v9.4h-9.4zM885.32 427.2h9.4v9.4h-9.4zM913.26 427.2h9.4v9.4h-9.4zM941.2 427.2h9.4v9.4h-9.4zM969.14 427.2h9.4v9.4h-9.4zM997.08 427.2h9.4v9.4h-9.4zM1025.02 427.2h9.4v9.4h-9.4zM1052.96 348.38h9.4v9.4h-9.4zM1080.9 180.49h9.4v9.4h-9.4zM1108.84 89.36h9.4v9.4h-9.4zM1136.78 30.66h9.4v9.4h-9.4zM1164.72 17.11h9.4v9.4h-9.4zM1192.66 16.7h9.4v9.4h-9.4zM1220.6 16.7h9.4v9.4h-9.4zM1248.54 16.7h9.4v9.4h-9.4zM1276.48 16.7h9.4v9.4h-9.4zM1304.42 21.63h9.4v9.4h-9.4zM1332.36 69.65h9.4v9.4h-9.4zM1360.3 141.9h9.4v9.4h-9.4z" fill="#008000"/>
</g>
<path d="M821.9 48.2h8.4M842.7 48.2h8.4" stroke="#000000" stroke-width="0.7" fill="none"/>
<rect x="831.8" y="43.5" width="9.4" height="9.4" fill="#000000"/>
<use href="#gf" x="852.9" y="52.9"/>
<g font-family="'Liberation Serif', serif" font-weight="bold" font-size="16.6" fill="#000" stroke="#000" stroke-width="0.25">
<text x="861.9" y="59.1" font-style="italic" font-size="16.4">v</text>
<path d="M873 45.5h9.2M873 48.6h9.2" stroke="#111" stroke-width="1.3" fill="none"/>
<text x="887.5" y="52.9">10</text>
<text x="903.6" y="46.3" font-size="16.3" letter-spacing="0.4">−3.0</text>
</g>
<path d="M821.9 83.88h8.4M842.7 83.88h8.4" stroke="#ff0000" stroke-width="0.7" fill="none"/>
<rect x="831.8" y="79.18" width="9.4" height="9.4" fill="#ff0000"/>
<use href="#gf" x="852.9" y="88.58"/>
<g font-family="'Liberation Serif', serif" font-weight="bold" font-size="16.6" fill="#000" stroke="#000" stroke-width="0.25">
<text x="861.9" y="94.78" font-style="italic" font-size="16.4">v</text>
<path d="M873 81.18h9.2M873 84.28h9.2" stroke="#111" stroke-width="1.3" fill="none"/>
<text x="887.5" y="88.58">10</text>
<text x="903.6" y="81.98" font-size="16.3" letter-spacing="0.4">−3.5</text>
</g>
<path d="M821.9 119.56h8.4M842.7 119.56h8.4" stroke="#0000ff" stroke-width="0.7" fill="none"/>
<rect x="831.8" y="114.86" width="9.4" height="9.4" fill="#0000ff"/>
<use href="#gf" x="852.9" y="124.26"/>
<g font-family="'Liberation Serif', serif" font-weight="bold" font-size="16.6" fill="#000" stroke="#000" stroke-width="0.25">
<text x="861.9" y="130.46" font-style="italic" font-size="16.4">v</text>
<path d="M873 116.86h9.2M873 119.96h9.2" stroke="#111" stroke-width="1.3" fill="none"/>
<text x="887.5" y="124.26">10</text>
<text x="903.6" y="117.66" font-size="16.3" letter-spacing="0.4">−4.0</text>
</g>
<path d="M821.9 155.24h8.4M842.7 155.24h8.4" stroke="#ff00ff" stroke-width="0.7" fill="none"/>
<rect x="831.8" y="150.54" width="9.4" height="9.4" fill="#ff00ff"/>
<use href="#gf" x="852.9" y="159.94"/>
<g font-family="'Liberation Serif', serif" font-weight="bold" font-size="16.6" fill="#000" stroke="#000" stroke-width="0.25">
<text x="861.9" y="166.14" font-style="italic" font-size="16.4">v</text>
<path d="M873 152.54h9.2M873 155.64h9.2" stroke="#111" stroke-width="1.3" fill="none"/>
<text x="887.5" y="159.94">10</text>
<text x="903.6" y="153.34" font-size="16.3" letter-spacing="0.4">−4.5</text>
</g>
<path d="M821.9 190.92h8.4M842.7 190.92h8.4" stroke="#808000" stroke-width="0.7" fill="none"/>
<rect x="831.8" y="186.22" width="9.4" height="9.4" fill="#808000"/>
<use href="#gf" x="852.9" y="195.62"/>
<g font-family="'Liberation Serif', serif" font-weight="bold" font-size="16.6" fill="#000" stroke="#000" stroke-width="0.25">
<text x="861.9" y="201.82" font-style="italic" font-size="16.4">v</text>
<path d="M873 188.22h9.2M873 191.32h9.2" stroke="#111" stroke-width="1.3" fill="none"/>
<text x="887.5" y="195.62">10</text>
<text x="903.6" y="189.02" font-size="16.3" letter-spacing="0.4">−5.0</text>
</g>
<path d="M821.9 226.6h8.4M842.7 226.6h8.4" stroke="#800000" stroke-width="0.7" fill="none"/>
<rect x="831.8" y="221.9" width="9.4" height="9.4" fill="#800000"/>
<use href="#gf" x="852.9" y="231.3"/>
<g font-family="'Liberation Serif', serif" font-weight="bold" font-size="16.6" fill="#000" stroke="#000" stroke-width="0.25">
<text x="861.9" y="237.5" font-style="italic" font-size="16.4">v</text>
<path d="M873 223.9h9.2M873 227h9.2" stroke="#111" stroke-width="1.3" fill="none"/>
<text x="887.5" y="231.3">10</text>
<text x="903.6" y="224.7" font-size="16.3" letter-spacing="0.4">−5.5</text>
</g>
<path d="M821.9 262.28h8.4M842.7 262.28h8.4" stroke="#008000" stroke-width="0.7" fill="none"/>
<rect x="831.8" y="257.58" width="9.4" height="9.4" fill="#008000"/>
<use href="#gf" x="852.9" y="266.98"/>
<g font-family="'Liberation Serif', serif" font-weight="bold" font-size="16.6" fill="#000" stroke="#000" stroke-width="0.25">
<text x="861.9" y="273.18" font-style="italic" font-size="16.4">v</text>
<path d="M873 259.58h9.2M873 262.68h9.2" stroke="#111" stroke-width="1.3" fill="none"/>
<text x="887.5" y="266.98">10</text>
<text x="903.6" y="260.38" font-size="16.3" letter-spacing="0.4">−6.0</text>
</g>
<g font-family="'Liberation Serif', serif" font-weight="bold" fill="#000" stroke="#000" stroke-width="0.3">
<text x="1084.5" y="501.4" text-anchor="middle" font-size="29.9">Power [W]</text>
<text transform="translate(742.75 246.7) rotate(-90)" text-anchor="middle" font-size="31.4" textLength="203.8" lengthAdjust="spacingAndGlyphs">Apoptosis Ratio</text>
</g>
<text x="1051.8" y="554.8" text-anchor="middle" font-family="'Liberation Serif', serif" font-size="27.5" fill="#000"><tspan font-size="30" dy="1.6">(</tspan><tspan font-weight="bold" dy="-1.6">b</tspan><tspan font-size="30" dy="1.6">)</tspan></text>
</g>
<g id="panel_c">
<path d="M121 590.06V1000.8M176.89 590.06V1000.8M232.77 590.06V1000.8M288.65 590.06V1000.8M344.54 590.06V1000.8M400.42 590.06V1000.8M456.31 590.06V1000.8M512.19 590.06V1000.8M568.07 590.06V1000.8M623.96 590.06V1000.8M93.06 980.26H651.9M93.06 939.19H651.9M93.06 898.12H651.9M93.06 857.04H651.9M93.06 815.97H651.9M93.06 774.89H651.9M93.06 733.82H651.9M93.06 692.74H651.9M93.06 651.67H651.9M93.06 610.6H651.9" stroke="#dedede" stroke-width="0.9" stroke-dasharray="1.5 2" fill="none"/>
<path d="M148.94 590.06V1000.8M204.83 590.06V1000.8M260.71 590.06V1000.8M316.6 590.06V1000.8M372.48 590.06V1000.8M428.36 590.06V1000.8M484.25 590.06V1000.8M540.13 590.06V1000.8M596.02 590.06V1000.8M93.06 959.73H651.9M93.06 918.65H651.9M93.06 877.58H651.9M93.06 836.5H651.9M93.06 795.43H651.9M93.06 754.36H651.9M93.06 713.28H651.9M93.06 672.21H651.9M93.06 631.13H651.9" stroke="#9a9a9a" stroke-width="0.8" fill="none"/>
<rect x="97.9" y="595.9" width="126.8" height="253" fill="#fff"/>
<rect x="93.06" y="590.06" width="558.84" height="410.74" fill="none" stroke="#222" stroke-width="1.55"/>
<path d="M93.06 1000.8v8.9M121 1000.8v5M148.94 1000.8v8.9M176.89 1000.8v5M204.83 1000.8v8.9M232.77 1000.8v5M260.71 1000.8v8.9M288.65 1000.8v5M316.6 1000.8v8.9M344.54 1000.8v5M372.48 1000.8v8.9M400.42 1000.8v5M428.36 1000.8v8.9M456.31 1000.8v5M484.25 1000.8v8.9M512.19 1000.8v5M540.13 1000.8v8.9M568.07 1000.8v5M596.02 1000.8v8.9M623.96 1000.8v5M651.9 1000.8v8.9M93.06 1000.8h-9.1M93.06 980.26h-5M93.06 959.73h-9.1M93.06 939.19h-5M93.06 918.65h-9.1M93.06 898.12h-5M93.06 877.58h-9.1M93.06 857.04h-5M93.06 836.5h-9.1M93.06 815.97h-5M93.06 795.43h-9.1M93.06 774.89h-5M93.06 754.36h-9.1M93.06 733.82h-5M93.06 713.28h-9.1M93.06 692.74h-5M93.06 672.21h-9.1M93.06 651.67h-5M93.06 631.13h-9.1M93.06 610.6h-5M93.06 590.06h-9.1" stroke="#222" stroke-width="1.6" fill="none"/>
<g font-family="'Liberation Sans', sans-serif" font-size="21.8" fill="#111">
<text x="93.06" y="1032.2" text-anchor="middle">0.00</text>
<text x="148.94" y="1032.2" text-anchor="middle">0.02</text>
<text x="204.83" y="1032.2" text-anchor="middle">0.04</text>
<text x="260.71" y="1032.2" text-anchor="middle">0.06</text>
<text x="316.6" y="1032.2" text-anchor="middle">0.08</text>
<text x="372.48" y="1032.2" text-anchor="middle">0.10</text>
<text x="428.36" y="1032.2" text-anchor="middle">0.12</text>
<text x="484.25" y="1032.2" text-anchor="middle">0.14</text>
<text x="540.13" y="1032.2" text-anchor="middle">0.16</text>
<text x="596.02" y="1032.2" text-anchor="middle">0.18</text>
<text x="651.9" y="1032.2" text-anchor="middle">0.20</text>
<text x="78.46" y="1008.1" text-anchor="end">0.0</text>
<text x="78.46" y="967.03" text-anchor="end">0.1</text>
<text x="78.46" y="925.95" text-anchor="end">0.2</text>
<text x="78.46" y="884.88" text-anchor="end">0.3</text>
<text x="78.46" y="843.8" text-anchor="end">0.4</text>
<text x="78.46" y="802.73" text-anchor="end">0.5</text>
<text x="78.46" y="761.66" text-anchor="end">0.6</text>
<text x="78.46" y="720.58" text-anchor="end">0.7</text>
<text x="78.46" y="679.51" text-anchor="end">0.8</text>
<text x="78.46" y="638.43" text-anchor="end">0.9</text>
<text x="78.46" y="597.36" text-anchor="end">1.0</text>
</g>
<g clip-path="url(#cp_c)">
<path d="M99.86 1000.8L114.2 1000.8M127.8 1000.8L142.14 1000.8M155.74 1000.8L170.09 1000.8M183.69 1000.8L198.03 1000.8M211.63 1000.8L225.97 1000.8M239.57 1000.8L253.91 1000.8M267.51 1000.8L281.85 1000.8M295.44 1000.43L309.81 999.65M319.38 993.08L341.75 943.34M346.41 930.6L370.61 845.92M374.07 832.77L398.83 729.75M402.76 716.75L426.03 653.13M432.32 641.21L452.35 613.25M462.39 604.68L478.17 596.8M490.99 592.86L505.45 590.95M518.99 590.06L533.33 590.06M546.93 590.06L561.27 590.06M573.84 593.66L590.25 603.91M600.44 612.68L619.54 635M627.94 645.68L647.91 673.27" stroke="#000000" stroke-width="0.75" fill="none"/>
<path d="M88.36 996.1h9.4v9.4h-9.4zM116.3 996.1h9.4v9.4h-9.4zM144.24 996.1h9.4v9.4h-9.4zM172.19 996.1h9.4v9.4h-9.4zM200.13 996.1h9.4v9.4h-9.4zM228.07 996.1h9.4v9.4h-9.4zM256.01 996.1h9.4v9.4h-9.4zM283.95 996.1h9.4v9.4h-9.4zM311.9 994.58h9.4v9.4h-9.4zM339.84 932.44h9.4v9.4h-9.4zM367.78 834.68h9.4v9.4h-9.4zM395.72 718.44h9.4v9.4h-9.4zM423.66 642.04h9.4v9.4h-9.4zM451.61 603.02h9.4v9.4h-9.4zM479.55 589.06h9.4v9.4h-9.4zM507.49 585.36h9.4v9.4h-9.4zM535.43 585.36h9.4v9.4h-9.4zM563.37 585.36h9.4v9.4h-9.4zM591.32 602.82h9.4v9.4h-9.4zM619.26 635.47h9.4v9.4h-9.4zM647.2 674.08h9.4v9.4h-9.4z" fill="#000000"/>
<path d="M99.86 1000.8L114.2 1000.8M127.8 1000.8L142.14 1000.8M155.74 1000.8L170.09 1000.8M183.69 1000.8L198.03 1000.8M211.63 1000.8L225.97 1000.8M239.57 1000.8L253.91 1000.8M267.51 1000.8L281.85 1000.8M295.44 1000.43L309.81 999.65M319.38 993.08L341.75 943.34M346.41 930.6L370.61 845.92M374.07 832.77L398.83 729.75M402.76 716.75L426.03 653.13M432.32 641.21L452.35 613.25M462.39 604.68L478.17 596.8M490.99 592.86L505.45 590.95M518.99 590.06L533.33 590.06M546.93 590.06L561.27 590.06M573.84 593.66L590.25 603.91M600.44 612.68L619.54 635M627.94 645.68L647.91 673.27" stroke="#ff0000" stroke-width="0.75" fill="none"/>
<path d="M88.36 996.1h9.4v9.4h-9.4zM116.3 996.1h9.4v9.4h-9.4zM144.24 996.1h9.4v9.4h-9.4zM172.19 996.1h9.4v9.4h-9.4zM200.13 996.1h9.4v9.4h-9.4zM228.07 996.1h9.4v9.4h-9.4zM256.01 996.1h9.4v9.4h-9.4zM283.95 996.1h9.4v9.4h-9.4zM311.9 994.58h9.4v9.4h-9.4zM339.84 932.44h9.4v9.4h-9.4zM367.78 834.68h9.4v9.4h-9.4zM395.72 718.44h9.4v9.4h-9.4zM423.66 642.04h9.4v9.4h-9.4zM451.61 603.02h9.4v9.4h-9.4zM479.55 589.06h9.4v9.4h-9.4zM507.49 585.36h9.4v9.4h-9.4zM535.43 585.36h9.4v9.4h-9.4zM563.37 585.36h9.4v9.4h-9.4zM591.32 602.82h9.4v9.4h-9.4zM619.26 635.47h9.4v9.4h-9.4zM647.2 674.08h9.4v9.4h-9.4z" fill="#ff0000"/>
<path d="M99.86 1000.8L114.2 1000.8M127.8 1000.8L142.14 1000.8M155.74 1000.8L170.09 1000.8M183.69 1000.8L198.03 1000.8M211.63 1000.8L225.97 1000.8M239.57 1000.8L253.91 1000.8M267.51 1000.8L281.85 1000.8M295.44 1000.43L309.81 999.65M319.38 993.08L341.75 943.34M346.41 930.6L370.61 845.92M374.06 832.77L398.84 729.34M402.76 716.34L426.03 652.72M432.35 640.82L452.32 613.23M462.39 604.68L478.17 596.8M490.99 592.86L505.45 590.95M518.99 590.06L533.33 590.06M546.93 590.06L561.27 590.06M573.86 593.63L590.23 603.74M600.44 612.48L619.54 634.8M627.93 645.48L647.93 673.26" stroke="#0000ff" stroke-width="0.75" fill="none"/>
<path d="M88.36 996.1h9.4v9.4h-9.4zM116.3 996.1h9.4v9.4h-9.4zM144.24 996.1h9.4v9.4h-9.4zM172.19 996.1h9.4v9.4h-9.4zM200.13 996.1h9.4v9.4h-9.4zM228.07 996.1h9.4v9.4h-9.4zM256.01 996.1h9.4v9.4h-9.4zM283.95 996.1h9.4v9.4h-9.4zM311.9 994.58h9.4v9.4h-9.4zM339.84 932.44h9.4v9.4h-9.4zM367.78 834.68h9.4v9.4h-9.4zM395.72 718.03h9.4v9.4h-9.4zM423.66 641.63h9.4v9.4h-9.4zM451.61 603.02h9.4v9.4h-9.4zM479.55 589.06h9.4v9.4h-9.4zM507.49 585.36h9.4v9.4h-9.4zM535.43 585.36h9.4v9.4h-9.4zM563.37 585.36h9.4v9.4h-9.4zM591.32 602.61h9.4v9.4h-9.4zM619.26 635.26h9.4v9.4h-9.4zM647.2 674.08h9.4v9.4h-9.4z" fill="#0000ff"/>
<path d="M99.86 1000.8L114.2 1000.8M127.8 1000.8L142.14 1000.8M155.74 1000.8L170.09 1000.8M183.69 1000.8L198.03 1000.8M211.63 1000.8L225.97 1000.8M239.57 1000.8L253.91 1000.8M267.51 1000.8L281.85 1000.8M295.45 1000.7L309.8 1000.49M319.34 994.17L341.79 943.36M346.41 930.6L370.61 845.92M374.05 832.76L398.85 728.11M402.77 715.11L426.02 651.89M432.38 640.02L452.29 612.8M462.42 604.34L478.13 596.72M490.99 592.86L505.45 590.95M518.99 590.06L533.33 590.06M546.93 590.06L561.27 590.06M573.94 593.51L590.15 603.04M600.42 611.67L619.55 634.17M627.89 644.9L647.97 673.23" stroke="#ff00ff" stroke-width="0.75" fill="none"/>
<path d="M88.36 996.1h9.4v9.4h-9.4zM116.3 996.1h9.4v9.4h-9.4zM144.24 996.1h9.4v9.4h-9.4zM172.19 996.1h9.4v9.4h-9.4zM200.13 996.1h9.4v9.4h-9.4zM228.07 996.1h9.4v9.4h-9.4zM256.01 996.1h9.4v9.4h-9.4zM283.95 996.1h9.4v9.4h-9.4zM311.9 995.69h9.4v9.4h-9.4zM339.84 932.44h9.4v9.4h-9.4zM367.78 834.68h9.4v9.4h-9.4zM395.72 716.8h9.4v9.4h-9.4zM423.66 640.81h9.4v9.4h-9.4zM451.61 602.61h9.4v9.4h-9.4zM479.55 589.06h9.4v9.4h-9.4zM507.49 585.36h9.4v9.4h-9.4zM535.43 585.36h9.4v9.4h-9.4zM563.37 585.36h9.4v9.4h-9.4zM591.32 601.79h9.4v9.4h-9.4zM619.26 634.65h9.4v9.4h-9.4zM647.2 674.08h9.4v9.4h-9.4z" fill="#ff00ff"/>
<path d="M99.86 1000.8L114.2 1000.8M127.8 1000.8L142.14 1000.8M155.74 1000.8L170.09 1000.8M183.69 1000.8L198.03 1000.8M211.63 1000.8L225.97 1000.8M239.57 1000.8L253.91 1000.8M267.51 1000.8L281.85 1000.8M295.45 1000.75L309.8 1000.64M319.54 994.47L341.59 948.6M346.36 935.92L370.66 848.6M374.01 835.42L398.89 727.71M402.78 714.71L426.01 651.89M432.38 640.02L452.29 612.8M462.39 604.27L478.17 596.39M491 592.55L505.44 590.85M518.99 590.06L533.33 590.06M546.93 590.06L561.27 590.06M574.52 592.21L589.57 597.23M600.38 604.6L619.59 627.56M627.73 638.43L648.13 669.02" stroke="#808000" stroke-width="0.75" fill="none"/>
<path d="M88.36 996.1h9.4v9.4h-9.4zM116.3 996.1h9.4v9.4h-9.4zM144.24 996.1h9.4v9.4h-9.4zM172.19 996.1h9.4v9.4h-9.4zM200.13 996.1h9.4v9.4h-9.4zM228.07 996.1h9.4v9.4h-9.4zM256.01 996.1h9.4v9.4h-9.4zM283.95 996.1h9.4v9.4h-9.4zM311.9 995.89h9.4v9.4h-9.4zM339.84 937.77h9.4v9.4h-9.4zM367.78 837.35h9.4v9.4h-9.4zM395.72 716.39h9.4v9.4h-9.4zM423.66 640.81h9.4v9.4h-9.4zM451.61 602.61h9.4v9.4h-9.4zM479.55 588.65h9.4v9.4h-9.4zM507.49 585.36h9.4v9.4h-9.4zM535.43 585.36h9.4v9.4h-9.4zM563.37 585.36h9.4v9.4h-9.4zM591.32 594.68h9.4v9.4h-9.4zM619.26 628.08h9.4v9.4h-9.4zM647.2 669.97h9.4v9.4h-9.4z" fill="#808000"/>
<path d="M99.86 1000.8L114.2 1000.8M127.8 1000.8L142.14 1000.8M155.74 1000.8L170.09 1000.8M183.69 1000.8L198.03 1000.8M211.63 1000.8L225.97 1000.8M239.57 1000.8L253.91 1000.8M267.51 1000.8L281.85 1000.8M295.45 1000.8L309.8 1000.8M320.81 995.47L340.32 970.81M346.3 958.91L370.71 868.13M373.93 854.92L398.97 740.05M402.67 726.99L426.11 660.14M432.01 647.99L452.66 615.51M462.24 606.46L478.31 597.48M490.98 593.18L505.46 591.05M518.99 590.06L533.33 590.06M546.93 590.06L561.27 590.06M574.87 590.06L589.22 590.06M601.34 594.29L618.63 608.01M627.86 617.81L648 646.51" stroke="#800000" stroke-width="0.75" fill="none"/>
<path d="M88.36 996.1h9.4v9.4h-9.4zM116.3 996.1h9.4v9.4h-9.4zM144.24 996.1h9.4v9.4h-9.4zM172.19 996.1h9.4v9.4h-9.4zM200.13 996.1h9.4v9.4h-9.4zM228.07 996.1h9.4v9.4h-9.4zM256.01 996.1h9.4v9.4h-9.4zM283.95 996.1h9.4v9.4h-9.4zM311.9 996.1h9.4v9.4h-9.4zM339.84 960.78h9.4v9.4h-9.4zM367.78 856.86h9.4v9.4h-9.4zM395.72 728.71h9.4v9.4h-9.4zM423.66 649.02h9.4v9.4h-9.4zM451.61 605.08h9.4v9.4h-9.4zM479.55 589.47h9.4v9.4h-9.4zM507.49 585.36h9.4v9.4h-9.4zM535.43 585.36h9.4v9.4h-9.4zM563.37 585.36h9.4v9.4h-9.4zM591.32 585.36h9.4v9.4h-9.4zM619.26 607.54h9.4v9.4h-9.4zM647.2 647.38h9.4v9.4h-9.4z" fill="#800000"/>
<path d="M99.86 1000.8L114.2 1000.8M127.8 1000.8L142.14 1000.8M155.74 1000.8L170.09 1000.8M183.69 1000.8L198.03 1000.8M211.63 1000.8L225.97 1000.8M239.57 1000.8L253.91 1000.8M267.51 1000.8L281.85 1000.8M295.45 1000.8L309.8 1000.8M322.68 997.76L338.46 989.87M346.52 980.33L370.5 901.74M373.86 888.58L399.04 767.18M402.46 754.03L426.32 678.28M431.41 665.72L453.26 622.02M461.75 611.86L478.81 599.07M490.98 594L505.46 591.87M518.99 590.68L533.33 590.26M546.93 590.06L561.27 590.06M574.87 590.16L589.22 590.37M602.73 591.56L617.25 593.9M628.63 599.93L647.23 619.62" stroke="#008000" stroke-width="0.75" fill="none"/>
<path d="M88.36 996.1h9.4v9.4h-9.4zM116.3 996.1h9.4v9.4h-9.4zM144.24 996.1h9.4v9.4h-9.4zM172.19 996.1h9.4v9.4h-9.4zM200.13 996.1h9.4v9.4h-9.4zM228.07 996.1h9.4v9.4h-9.4zM256.01 996.1h9.4v9.4h-9.4zM283.95 996.1h9.4v9.4h-9.4zM311.9 996.1h9.4v9.4h-9.4zM339.84 982.13h9.4v9.4h-9.4zM367.78 890.54h9.4v9.4h-9.4zM395.72 755.82h9.4v9.4h-9.4zM423.66 667.1h9.4v9.4h-9.4zM451.61 611.24h9.4v9.4h-9.4zM479.55 590.29h9.4v9.4h-9.4zM507.49 586.18h9.4v9.4h-9.4zM535.43 585.36h9.4v9.4h-9.4zM563.37 585.36h9.4v9.4h-9.4zM591.32 585.77h9.4v9.4h-9.4zM619.26 590.29h9.4v9.4h-9.4zM647.2 619.86h9.4v9.4h-9.4z" fill="#008000"/>
</g>
<path d="M107 614.5h8.4M127.8 614.5h8.4" stroke="#000000" stroke-width="0.7" fill="none"/>
<rect x="116.9" y="609.8" width="9.4" height="9.4" fill="#000000"/>
<use href="#gf" x="138" y="619.2"/>
<g font-family="'Liberation Serif', serif" font-weight="bold" font-size="16.6" fill="#000" stroke="#000" stroke-width="0.25">
<text x="147" y="625.4" font-style="italic" font-size="16.4">v</text>
<path d="M158.1 611.8h9.2M158.1 614.9h9.2" stroke="#111" stroke-width="1.3" fill="none"/>
<text x="172.6" y="619.2">10</text>
<text x="188.7" y="612.6" font-size="16.3" letter-spacing="0.4">−3.0</text>
</g>
<path d="M107 650.18h8.4M127.8 650.18h8.4" stroke="#ff0000" stroke-width="0.7" fill="none"/>
<rect x="116.9" y="645.48" width="9.4" height="9.4" fill="#ff0000"/>
<use href="#gf" x="138" y="654.88"/>
<g font-family="'Liberation Serif', serif" font-weight="bold" font-size="16.6" fill="#000" stroke="#000" stroke-width="0.25">
<text x="147" y="661.08" font-style="italic" font-size="16.4">v</text>
<path d="M158.1 647.48h9.2M158.1 650.58h9.2" stroke="#111" stroke-width="1.3" fill="none"/>
<text x="172.6" y="654.88">10</text>
<text x="188.7" y="648.28" font-size="16.3" letter-spacing="0.4">−3.5</text>
</g>
<path d="M107 685.86h8.4M127.8 685.86h8.4" stroke="#0000ff" stroke-width="0.7" fill="none"/>
<rect x="116.9" y="681.16" width="9.4" height="9.4" fill="#0000ff"/>
<use href="#gf" x="138" y="690.56"/>
<g font-family="'Liberation Serif', serif" font-weight="bold" font-size="16.6" fill="#000" stroke="#000" stroke-width="0.25">
<text x="147" y="696.76" font-style="italic" font-size="16.4">v</text>
<path d="M158.1 683.16h9.2M158.1 686.26h9.2" stroke="#111" stroke-width="1.3" fill="none"/>
<text x="172.6" y="690.56">10</text>
<text x="188.7" y="683.96" font-size="16.3" letter-spacing="0.4">−4.0</text>
</g>
<path d="M107 721.54h8.4M127.8 721.54h8.4" stroke="#ff00ff" stroke-width="0.7" fill="none"/>
<rect x="116.9" y="716.84" width="9.4" height="9.4" fill="#ff00ff"/>
<use href="#gf" x="138" y="726.24"/>
<g font-family="'Liberation Serif', serif" font-weight="bold" font-size="16.6" fill="#000" stroke="#000" stroke-width="0.25">
<text x="147" y="732.44" font-style="italic" font-size="16.4">v</text>
<path d="M158.1 718.84h9.2M158.1 721.94h9.2" stroke="#111" stroke-width="1.3" fill="none"/>
<text x="172.6" y="726.24">10</text>
<text x="188.7" y="719.64" font-size="16.3" letter-spacing="0.4">−4.5</text>
</g>
<path d="M107 757.22h8.4M127.8 757.22h8.4" stroke="#808000" stroke-width="0.7" fill="none"/>
<rect x="116.9" y="752.52" width="9.4" height="9.4" fill="#808000"/>
<use href="#gf" x="138" y="761.92"/>
<g font-family="'Liberation Serif', serif" font-weight="bold" font-size="16.6" fill="#000" stroke="#000" stroke-width="0.25">
<text x="147" y="768.12" font-style="italic" font-size="16.4">v</text>
<path d="M158.1 754.52h9.2M158.1 757.62h9.2" stroke="#111" stroke-width="1.3" fill="none"/>
<text x="172.6" y="761.92">10</text>
<text x="188.7" y="755.32" font-size="16.3" letter-spacing="0.4">−5.0</text>
</g>
<path d="M107 792.9h8.4M127.8 792.9h8.4" stroke="#800000" stroke-width="0.7" fill="none"/>
<rect x="116.9" y="788.2" width="9.4" height="9.4" fill="#800000"/>
<use href="#gf" x="138" y="797.6"/>
<g font-family="'Liberation Serif', serif" font-weight="bold" font-size="16.6" fill="#000" stroke="#000" stroke-width="0.25">
<text x="147" y="803.8" font-style="italic" font-size="16.4">v</text>
<path d="M158.1 790.2h9.2M158.1 793.3h9.2" stroke="#111" stroke-width="1.3" fill="none"/>
<text x="172.6" y="797.6">10</text>
<text x="188.7" y="791" font-size="16.3" letter-spacing="0.4">−5.5</text>
</g>
<path d="M107 828.58h8.4M127.8 828.58h8.4" stroke="#008000" stroke-width="0.7" fill="none"/>
<rect x="116.9" y="823.88" width="9.4" height="9.4" fill="#008000"/>
<use href="#gf" x="138" y="833.28"/>
<g font-family="'Liberation Serif', serif" font-weight="bold" font-size="16.6" fill="#000" stroke="#000" stroke-width="0.25">
<text x="147" y="839.48" font-style="italic" font-size="16.4">v</text>
<path d="M158.1 825.88h9.2M158.1 828.98h9.2" stroke="#111" stroke-width="1.3" fill="none"/>
<text x="172.6" y="833.28">10</text>
<text x="188.7" y="826.68" font-size="16.3" letter-spacing="0.4">−6.0</text>
</g>
<g font-family="'Liberation Serif', serif" font-weight="bold" fill="#000" stroke="#000" stroke-width="0.3">
<text x="371.3" y="1063.7" text-anchor="middle" font-size="29.9">Power [W]</text>
<text transform="translate(30.15 815.5) rotate(-90)" text-anchor="middle" font-size="31.4" textLength="203.8" lengthAdjust="spacingAndGlyphs">Apoptosis Ratio</text>
</g>
<text x="341.6" y="1118.8" text-anchor="middle" font-family="'Liberation Serif', serif" font-size="27.5" fill="#000"><tspan font-size="30" dy="1.6">(</tspan><tspan font-weight="bold" dy="-1.6">c</tspan><tspan font-size="30" dy="1.6">)</tspan></text>
</g>
<g id="panel_d">
<path d="M835.14 589.6V1000.4M891.02 589.6V1000.4M946.9 589.6V1000.4M1002.78 589.6V1000.4M1058.66 589.6V1000.4M1114.54 589.6V1000.4M1170.42 589.6V1000.4M1226.3 589.6V1000.4M1282.18 589.6V1000.4M1338.06 589.6V1000.4M807.2 979.86H1366M807.2 938.78H1366M807.2 897.7H1366M807.2 856.62H1366M807.2 815.54H1366M807.2 774.46H1366M807.2 733.38H1366M807.2 692.3H1366M807.2 651.22H1366M807.2 610.14H1366" stroke="#dedede" stroke-width="0.9" stroke-dasharray="1.5 2" fill="none"/>
<path d="M863.08 589.6V1000.4M918.96 589.6V1000.4M974.84 589.6V1000.4M1030.72 589.6V1000.4M1086.6 589.6V1000.4M1142.48 589.6V1000.4M1198.36 589.6V1000.4M1254.24 589.6V1000.4M1310.12 589.6V1000.4M807.2 959.32H1366M807.2 918.24H1366M807.2 877.16H1366M807.2 836.08H1366M807.2 795H1366M807.2 753.92H1366M807.2 712.84H1366M807.2 671.76H1366M807.2 630.68H1366" stroke="#9a9a9a" stroke-width="0.8" fill="none"/>
<rect x="814" y="596.3" width="126.9" height="253.1" fill="#fff"/>
<rect x="807.2" y="589.6" width="558.8" height="410.8" fill="none" stroke="#222" stroke-width="1.55"/>
<path d="M807.2 1000.4v8.9M835.14 1000.4v5M863.08 1000.4v8.9M891.02 1000.4v5M918.96 1000.4v8.9M946.9 1000.4v5M974.84 1000.4v8.9M1002.78 1000.4v5M1030.72 1000.4v8.9M1058.66 1000.4v5M1086.6 1000.4v8.9M1114.54 1000.4v5M1142.48 1000.4v8.9M1170.42 1000.4v5M1198.36 1000.4v8.9M1226.3 1000.4v5M1254.24 1000.4v8.9M1282.18 1000.4v5M1310.12 1000.4v8.9M1338.06 1000.4v5M1366 1000.4v8.9M807.2 1000.4h-9.1M807.2 979.86h-5M807.2 959.32h-9.1M807.2 938.78h-5M807.2 918.24h-9.1M807.2 897.7h-5M807.2 877.16h-9.1M807.2 856.62h-5M807.2 836.08h-9.1M807.2 815.54h-5M807.2 795h-9.1M807.2 774.46h-5M807.2 753.92h-9.1M807.2 733.38h-5M807.2 712.84h-9.1M807.2 692.3h-5M807.2 671.76h-9.1M807.2 651.22h-5M807.2 630.68h-9.1M807.2 610.14h-5M807.2 589.6h-9.1" stroke="#222" stroke-width="1.6" fill="none"/>
<g font-family="'Liberation Sans', sans-serif" font-size="21.8" fill="#111">
<text x="807.2" y="1031.4" text-anchor="middle">0.00</text>
<text x="863.08" y="1031.4" text-anchor="middle">0.02</text>
<text x="918.96" y="1031.4" text-anchor="middle">0.04</text>
<text x="974.84" y="1031.4" text-anchor="middle">0.06</text>
<text x="1030.72" y="1031.4" text-anchor="middle">0.08</text>
<text x="1086.6" y="1031.4" text-anchor="middle">0.10</text>
<text x="1142.48" y="1031.4" text-anchor="middle">0.12</text>
<text x="1198.36" y="1031.4" text-anchor="middle">0.14</text>
<text x="1254.24" y="1031.4" text-anchor="middle">0.16</text>
<text x="1310.12" y="1031.4" text-anchor="middle">0.18</text>
<text x="1366" y="1031.4" text-anchor="middle">0.20</text>
<text x="792.6" y="1007.7" text-anchor="end">0.0</text>
<text x="792.6" y="966.62" text-anchor="end">0.1</text>
<text x="792.6" y="925.54" text-anchor="end">0.2</text>
<text x="792.6" y="884.46" text-anchor="end">0.3</text>
<text x="792.6" y="843.38" text-anchor="end">0.4</text>
<text x="792.6" y="802.3" text-anchor="end">0.5</text>
<text x="792.6" y="761.22" text-anchor="end">0.6</text>
<text x="792.6" y="720.14" text-anchor="end">0.7</text>
<text x="792.6" y="679.06" text-anchor="end">0.8</text>
<text x="792.6" y="637.98" text-anchor="end">0.9</text>
<text x="792.6" y="596.9" text-anchor="end">1.0</text>
</g>
<g clip-path="url(#cp_d)">
<path d="M814 1000.4L828.34 1000.4M841.94 1000.4L856.28 1000.4M869.88 1000.4L884.22 1000.4M897.82 1000.4L912.16 1000.4M925.76 1000.4L940.1 1000.4M953.7 1000.4L968.04 1000.4M981.64 1000.4L995.98 1000.4M1009.58 1000.4L1023.92 1000.4M1037.1 998.05L1052.28 992.48M1061.25 983.84L1084.01 928.63M1088.61 915.85L1112.53 838.47M1116.17 825.37L1140.85 725.6M1144.96 712.67L1167.94 653.86M1174.58 642.14L1194.2 616.75M1204.15 607.8L1220.51 597.69M1233.01 593.03L1247.53 590.69M1261.04 589.6L1275.38 589.6M1288.98 589.6L1303.32 589.6M1316.86 590.47L1331.32 592.34M1343.4 597.42L1360.66 610.99" stroke="#000000" stroke-width="0.75" fill="none"/>
<path d="M802.5 995.7h9.4v9.4h-9.4zM830.44 995.7h9.4v9.4h-9.4zM858.38 995.7h9.4v9.4h-9.4zM886.32 995.7h9.4v9.4h-9.4zM914.26 995.7h9.4v9.4h-9.4zM942.2 995.7h9.4v9.4h-9.4zM970.14 995.7h9.4v9.4h-9.4zM998.08 995.7h9.4v9.4h-9.4zM1026.02 995.7h9.4v9.4h-9.4zM1053.96 985.43h9.4v9.4h-9.4zM1081.9 917.65h9.4v9.4h-9.4zM1109.84 827.27h9.4v9.4h-9.4zM1137.78 714.3h9.4v9.4h-9.4zM1165.72 642.82h9.4v9.4h-9.4zM1193.66 606.67h9.4v9.4h-9.4zM1221.6 589.42h9.4v9.4h-9.4zM1249.54 584.9h9.4v9.4h-9.4zM1277.48 584.9h9.4v9.4h-9.4zM1305.42 584.9h9.4v9.4h-9.4zM1333.36 588.52h9.4v9.4h-9.4zM1361.3 610.49h9.4v9.4h-9.4z" fill="#000000"/>
<path d="M814 1000.4L828.34 1000.4M841.94 1000.4L856.28 1000.4M869.88 1000.4L884.22 1000.4M897.82 1000.4L912.16 1000.4M925.76 1000.4L940.1 1000.4M953.7 1000.4L968.04 1000.4M981.64 1000.4L995.98 1000.4M1009.58 1000.4L1023.92 1000.4M1037.1 998.05L1052.28 992.48M1061.25 983.84L1084.01 928.63M1088.61 915.85L1112.53 838.47M1116.17 825.37L1140.85 725.6M1144.96 712.67L1167.94 653.86M1174.58 642.14L1194.2 616.75M1204.15 607.8L1220.51 597.69M1233.01 593.03L1247.53 590.69M1261.04 589.6L1275.38 589.6M1288.98 589.6L1303.32 589.6M1316.86 590.47L1331.32 592.34M1343.4 597.42L1360.66 610.99" stroke="#ff0000" stroke-width="0.75" fill="none"/>
<path d="M802.5 995.7h9.4v9.4h-9.4zM830.44 995.7h9.4v9.4h-9.4zM858.38 995.7h9.4v9.4h-9.4zM886.32 995.7h9.4v9.4h-9.4zM914.26 995.7h9.4v9.4h-9.4zM942.2 995.7h9.4v9.4h-9.4zM970.14 995.7h9.4v9.4h-9.4zM998.08 995.7h9.4v9.4h-9.4zM1026.02 995.7h9.4v9.4h-9.4zM1053.96 985.43h9.4v9.4h-9.4zM1081.9 917.65h9.4v9.4h-9.4zM1109.84 827.27h9.4v9.4h-9.4zM1137.78 714.3h9.4v9.4h-9.4zM1165.72 642.82h9.4v9.4h-9.4zM1193.66 606.67h9.4v9.4h-9.4zM1221.6 589.42h9.4v9.4h-9.4zM1249.54 584.9h9.4v9.4h-9.4zM1277.48 584.9h9.4v9.4h-9.4zM1305.42 584.9h9.4v9.4h-9.4zM1333.36 588.52h9.4v9.4h-9.4zM1361.3 610.49h9.4v9.4h-9.4z" fill="#ff0000"/>
<path d="M814 1000.4L828.34 1000.4M841.94 1000.4L856.28 1000.4M869.88 1000.4L884.22 1000.4M897.82 1000.4L912.16 1000.4M925.76 1000.4L940.1 1000.4M953.7 1000.4L968.04 1000.4M981.64 1000.4L995.98 1000.4M1009.58 1000.4L1023.92 1000.4M1037.1 998.05L1052.28 992.48M1061.25 983.84L1084.01 928.63M1088.61 915.85L1112.53 838.47M1116.17 825.37L1140.85 725.6M1144.96 712.67L1167.94 653.86M1174.58 642.14L1194.2 616.75M1204.15 607.8L1220.51 597.69M1233.01 593.03L1247.53 590.69M1261.04 589.6L1275.38 589.6M1288.98 589.6L1303.32 589.6M1316.86 590.47L1331.32 592.34M1343.4 597.42L1360.66 610.99" stroke="#0000ff" stroke-width="0.75" fill="none"/>
<path d="M802.5 995.7h9.4v9.4h-9.4zM830.44 995.7h9.4v9.4h-9.4zM858.38 995.7h9.4v9.4h-9.4zM886.32 995.7h9.4v9.4h-9.4zM914.26 995.7h9.4v9.4h-9.4zM942.2 995.7h9.4v9.4h-9.4zM970.14 995.7h9.4v9.4h-9.4zM998.08 995.7h9.4v9.4h-9.4zM1026.02 995.7h9.4v9.4h-9.4zM1053.96 985.43h9.4v9.4h-9.4zM1081.9 917.65h9.4v9.4h-9.4zM1109.84 827.27h9.4v9.4h-9.4zM1137.78 714.3h9.4v9.4h-9.4zM1165.72 642.82h9.4v9.4h-9.4zM1193.66 606.67h9.4v9.4h-9.4zM1221.6 589.42h9.4v9.4h-9.4zM1249.54 584.9h9.4v9.4h-9.4zM1277.48 584.9h9.4v9.4h-9.4zM1305.42 584.9h9.4v9.4h-9.4zM1333.36 588.52h9.4v9.4h-9.4zM1361.3 610.49h9.4v9.4h-9.4z" fill="#0000ff"/>
<path d="M814 1000.4L828.34 1000.4M841.94 1000.4L856.28 1000.4M869.88 1000.4L884.22 1000.4M897.82 1000.4L912.16 1000.4M925.76 1000.4L940.1 1000.4M953.7 1000.4L968.04 1000.4M981.64 1000.4L995.98 1000.4M1009.58 1000.4L1023.92 1000.4M1037.1 998.05L1052.28 992.48M1061.25 983.84L1084.01 928.63M1088.61 915.85L1112.53 838.47M1116.17 825.37L1140.85 725.6M1144.96 712.67L1167.94 653.86M1174.58 642.14L1194.2 616.75M1204.15 607.8L1220.51 597.69M1233.01 593.03L1247.53 590.69M1261.04 589.6L1275.38 589.6M1288.98 589.6L1303.32 589.6M1316.86 590.47L1331.32 592.34M1343.4 597.42L1360.66 610.99" stroke="#ff00ff" stroke-width="0.75" fill="none"/>
<path d="M802.5 995.7h9.4v9.4h-9.4zM830.44 995.7h9.4v9.4h-9.4zM858.38 995.7h9.4v9.4h-9.4zM886.32 995.7h9.4v9.4h-9.4zM914.26 995.7h9.4v9.4h-9.4zM942.2 995.7h9.4v9.4h-9.4zM970.14 995.7h9.4v9.4h-9.4zM998.08 995.7h9.4v9.4h-9.4zM1026.02 995.7h9.4v9.4h-9.4zM1053.96 985.43h9.4v9.4h-9.4zM1081.9 917.65h9.4v9.4h-9.4zM1109.84 827.27h9.4v9.4h-9.4zM1137.78 714.3h9.4v9.4h-9.4zM1165.72 642.82h9.4v9.4h-9.4zM1193.66 606.67h9.4v9.4h-9.4zM1221.6 589.42h9.4v9.4h-9.4zM1249.54 584.9h9.4v9.4h-9.4zM1277.48 584.9h9.4v9.4h-9.4zM1305.42 584.9h9.4v9.4h-9.4zM1333.36 588.52h9.4v9.4h-9.4zM1361.3 610.49h9.4v9.4h-9.4z" fill="#ff00ff"/>
<path d="M814 1000.4L828.34 1000.4M841.94 1000.4L856.28 1000.4M869.88 1000.4L884.22 1000.4M897.82 1000.4L912.16 1000.4M925.76 1000.4L940.1 1000.4M953.7 1000.4L968.04 1000.4M981.64 1000.4L995.98 1000.4M1009.58 1000.4L1023.92 1000.4M1037.29 998.66L1052.09 994.75M1061.26 986.72L1084 931.92M1088.53 919.11L1112.61 837.67M1116.18 824.55L1140.84 725.4M1144.96 712.46L1167.94 653.65M1174.56 641.93L1194.22 616.35M1204.15 607.39L1220.51 597.28M1233.03 592.72L1247.51 590.59M1261.04 589.6L1275.38 589.6M1288.98 589.6L1303.32 589.6M1316.92 589.7L1331.26 589.91M1343.39 594.23L1360.67 607.93" stroke="#808000" stroke-width="0.75" fill="none"/>
<path d="M802.5 995.7h9.4v9.4h-9.4zM830.44 995.7h9.4v9.4h-9.4zM858.38 995.7h9.4v9.4h-9.4zM886.32 995.7h9.4v9.4h-9.4zM914.26 995.7h9.4v9.4h-9.4zM942.2 995.7h9.4v9.4h-9.4zM970.14 995.7h9.4v9.4h-9.4zM998.08 995.7h9.4v9.4h-9.4zM1026.02 995.7h9.4v9.4h-9.4zM1053.96 988.31h9.4v9.4h-9.4zM1081.9 920.93h9.4v9.4h-9.4zM1109.84 826.45h9.4v9.4h-9.4zM1137.78 714.1h9.4v9.4h-9.4zM1165.72 642.62h9.4v9.4h-9.4zM1193.66 606.26h9.4v9.4h-9.4zM1221.6 589.01h9.4v9.4h-9.4zM1249.54 584.9h9.4v9.4h-9.4zM1277.48 584.9h9.4v9.4h-9.4zM1305.42 584.9h9.4v9.4h-9.4zM1333.36 585.31h9.4v9.4h-9.4zM1361.3 607.45h9.4v9.4h-9.4z" fill="#808000"/>
<path d="M814 1000.4L828.34 1000.4M841.94 1000.4L856.28 1000.4M869.88 1000.4L884.22 1000.4M897.82 1000.4L912.16 1000.4M925.76 1000.4L940.1 1000.4M953.7 1000.4L968.04 1000.4M981.64 1000.4L995.98 1000.4M1009.58 1000.4L1023.92 1000.4M1037.45 999.41L1051.93 997.28M1061.48 990.11L1083.78 941.27M1088.52 928.56L1112.62 846.71M1116.13 833.58L1140.89 730.42M1144.89 717.45L1168.01 656.55M1174.38 644.66L1194.4 616.7M1204.16 607.63L1220.5 597.66M1233.01 593.03L1247.53 590.69M1261.04 589.6L1275.38 589.6M1288.98 589.6L1303.32 589.6M1316.92 589.7L1331.26 589.91M1344.03 593.27L1360.03 602.03" stroke="#800000" stroke-width="0.75" fill="none"/>
<path d="M802.5 995.7h9.4v9.4h-9.4zM830.44 995.7h9.4v9.4h-9.4zM858.38 995.7h9.4v9.4h-9.4zM886.32 995.7h9.4v9.4h-9.4zM914.26 995.7h9.4v9.4h-9.4zM942.2 995.7h9.4v9.4h-9.4zM970.14 995.7h9.4v9.4h-9.4zM998.08 995.7h9.4v9.4h-9.4zM1026.02 995.7h9.4v9.4h-9.4zM1053.96 991.59h9.4v9.4h-9.4zM1081.9 930.38h9.4v9.4h-9.4zM1109.84 835.49h9.4v9.4h-9.4zM1137.78 719.11h9.4v9.4h-9.4zM1165.72 645.49h9.4v9.4h-9.4zM1193.66 606.47h9.4v9.4h-9.4zM1221.6 589.42h9.4v9.4h-9.4zM1249.54 584.9h9.4v9.4h-9.4zM1277.48 584.9h9.4v9.4h-9.4zM1305.42 584.9h9.4v9.4h-9.4zM1333.36 585.31h9.4v9.4h-9.4zM1361.3 600.59h9.4v9.4h-9.4z" fill="#800000"/>
<path d="M814 1000.4L828.34 1000.4M841.94 1000.4L856.28 1000.4M869.88 1000.4L884.22 1000.4M897.82 1000.4L912.16 1000.4M925.76 1000.4L940.1 1000.4M953.7 1000.4L968.04 1000.4M981.64 1000.4L995.98 1000.4M1009.58 1000.4L1023.92 1000.4M1037.51 1000.1L1051.87 999.47M1061.79 993.13L1083.47 951.39M1088.58 938.85L1112.56 859.84M1116.1 846.71L1140.92 741.4M1144.73 728.36L1168.17 661.5M1174.22 649.44L1194.56 619.23M1204 609.79L1220.66 598.54M1232.99 593.51L1247.55 590.83M1261.04 589.6L1275.38 589.6M1288.98 589.6L1303.32 589.6M1316.92 589.72L1331.26 589.97M1344.52 592.22L1359.54 597.17" stroke="#008000" stroke-width="0.75" fill="none"/>
<path d="M802.5 995.7h9.4v9.4h-9.4zM830.44 995.7h9.4v9.4h-9.4zM858.38 995.7h9.4v9.4h-9.4zM886.32 995.7h9.4v9.4h-9.4zM914.26 995.7h9.4v9.4h-9.4zM942.2 995.7h9.4v9.4h-9.4zM970.14 995.7h9.4v9.4h-9.4zM998.08 995.7h9.4v9.4h-9.4zM1026.02 995.7h9.4v9.4h-9.4zM1053.96 994.47h9.4v9.4h-9.4zM1081.9 940.65h9.4v9.4h-9.4zM1109.84 848.63h9.4v9.4h-9.4zM1137.78 730.08h9.4v9.4h-9.4zM1165.72 650.38h9.4v9.4h-9.4zM1193.66 608.89h9.4v9.4h-9.4zM1221.6 590.03h9.4v9.4h-9.4zM1249.54 584.9h9.4v9.4h-9.4zM1277.48 584.9h9.4v9.4h-9.4zM1305.42 584.9h9.4v9.4h-9.4zM1333.36 585.39h9.4v9.4h-9.4zM1361.3 594.59h9.4v9.4h-9.4z" fill="#008000"/>
</g>
<path d="M823.2 617.5h8.4M844 617.5h8.4" stroke="#000000" stroke-width="0.7" fill="none"/>
<rect x="833.1" y="612.8" width="9.4" height="9.4" fill="#000000"/>
<use href="#gf" x="854.2" y="622.2"/>
<g font-family="'Liberation Serif', serif" font-weight="bold" font-size="16.6" fill="#000" stroke="#000" stroke-width="0.25">
<text x="863.2" y="628.4" font-style="italic" font-size="16.4">v</text>
<path d="M874.3 614.8h9.2M874.3 617.9h9.2" stroke="#111" stroke-width="1.3" fill="none"/>
<text x="888.8" y="622.2">10</text>
<text x="904.9" y="615.6" font-size="16.3" letter-spacing="0.4">−3.0</text>
</g>
<path d="M823.2 655.18h8.4M844 655.18h8.4" stroke="#ff0000" stroke-width="0.7" fill="none"/>
<rect x="833.1" y="650.48" width="9.4" height="9.4" fill="#ff0000"/>
<use href="#gf" x="854.2" y="659.88"/>
<g font-family="'Liberation Serif', serif" font-weight="bold" font-size="16.6" fill="#000" stroke="#000" stroke-width="0.25">
<text x="863.2" y="666.08" font-style="italic" font-size="16.4">v</text>
<path d="M874.3 652.48h9.2M874.3 655.58h9.2" stroke="#111" stroke-width="1.3" fill="none"/>
<text x="888.8" y="659.88">10</text>
<text x="904.9" y="653.28" font-size="16.3" letter-spacing="0.4">−3.5</text>
</g>
<path d="M823.2 692.86h8.4M844 692.86h8.4" stroke="#0000ff" stroke-width="0.7" fill="none"/>
<rect x="833.1" y="688.16" width="9.4" height="9.4" fill="#0000ff"/>
<use href="#gf" x="854.2" y="697.56"/>
<g font-family="'Liberation Serif', serif" font-weight="bold" font-size="16.6" fill="#000" stroke="#000" stroke-width="0.25">
<text x="863.2" y="703.76" font-style="italic" font-size="16.4">v</text>
<path d="M874.3 690.16h9.2M874.3 693.26h9.2" stroke="#111" stroke-width="1.3" fill="none"/>
<text x="888.8" y="697.56">10</text>
<text x="904.9" y="690.96" font-size="16.3" letter-spacing="0.4">−4.0</text>
</g>
<path d="M823.2 730.54h8.4M844 730.54h8.4" stroke="#ff00ff" stroke-width="0.7" fill="none"/>
<rect x="833.1" y="725.84" width="9.4" height="9.4" fill="#ff00ff"/>
<use href="#gf" x="854.2" y="735.24"/>
<g font-family="'Liberation Serif', serif" font-weight="bold" font-size="16.6" fill="#000" stroke="#000" stroke-width="0.25">
<text x="863.2" y="741.44" font-style="italic" font-size="16.4">v</text>
<path d="M874.3 727.84h9.2M874.3 730.94h9.2" stroke="#111" stroke-width="1.3" fill="none"/>
<text x="888.8" y="735.24">10</text>
<text x="904.9" y="728.64" font-size="16.3" letter-spacing="0.4">−4.5</text>
</g>
<path d="M823.2 768.22h8.4M844 768.22h8.4" stroke="#808000" stroke-width="0.7" fill="none"/>
<rect x="833.1" y="763.52" width="9.4" height="9.4" fill="#808000"/>
<use href="#gf" x="854.2" y="772.92"/>
<g font-family="'Liberation Serif', serif" font-weight="bold" font-size="16.6" fill="#000" stroke="#000" stroke-width="0.25">
<text x="863.2" y="779.12" font-style="italic" font-size="16.4">v</text>
<path d="M874.3 765.52h9.2M874.3 768.62h9.2" stroke="#111" stroke-width="1.3" fill="none"/>
<text x="888.8" y="772.92">10</text>
<text x="904.9" y="766.32" font-size="16.3" letter-spacing="0.4">−5.0</text>
</g>
<path d="M823.2 805.9h8.4M844 805.9h8.4" stroke="#800000" stroke-width="0.7" fill="none"/>
<rect x="833.1" y="801.2" width="9.4" height="9.4" fill="#800000"/>
<use href="#gf" x="854.2" y="810.6"/>
<g font-family="'Liberation Serif', serif" font-weight="bold" font-size="16.6" fill="#000" stroke="#000" stroke-width="0.25">
<text x="863.2" y="816.8" font-style="italic" font-size="16.4">v</text>
<path d="M874.3 803.2h9.2M874.3 806.3h9.2" stroke="#111" stroke-width="1.3" fill="none"/>
<text x="888.8" y="810.6">10</text>
<text x="904.9" y="804" font-size="16.3" letter-spacing="0.4">−5.5</text>
</g>
<path d="M823.2 843.58h8.4M844 843.58h8.4" stroke="#008000" stroke-width="0.7" fill="none"/>
<rect x="833.1" y="838.88" width="9.4" height="9.4" fill="#008000"/>
<use href="#gf" x="854.2" y="848.28"/>
<g font-family="'Liberation Serif', serif" font-weight="bold" font-size="16.6" fill="#000" stroke="#000" stroke-width="0.25">
<text x="863.2" y="854.48" font-style="italic" font-size="16.4">v</text>
<path d="M874.3 840.88h9.2M874.3 843.98h9.2" stroke="#111" stroke-width="1.3" fill="none"/>
<text x="888.8" y="848.28">10</text>
<text x="904.9" y="841.68" font-size="16.3" letter-spacing="0.4">−6.0</text>
</g>
<g font-family="'Liberation Serif', serif" font-weight="bold" fill="#000" stroke="#000" stroke-width="0.3">
<text x="1085.4" y="1063.3" text-anchor="middle" font-size="29.9">Power [W]</text>
<text transform="translate(743.35 814.9) rotate(-90)" text-anchor="middle" font-size="31.4" textLength="203.8" lengthAdjust="spacingAndGlyphs">Apoptosis Ratio</text>
</g>
<text x="1051.8" y="1118.8" text-anchor="middle" font-family="'Liberation Serif', serif" font-size="27.5" fill="#000"><tspan font-size="30" dy="1.6">(</tspan><tspan font-weight="bold" dy="-1.6">d</tspan><tspan font-size="30" dy="1.6">)</tspan></text>
</g>
</svg>
</body>
</html>
